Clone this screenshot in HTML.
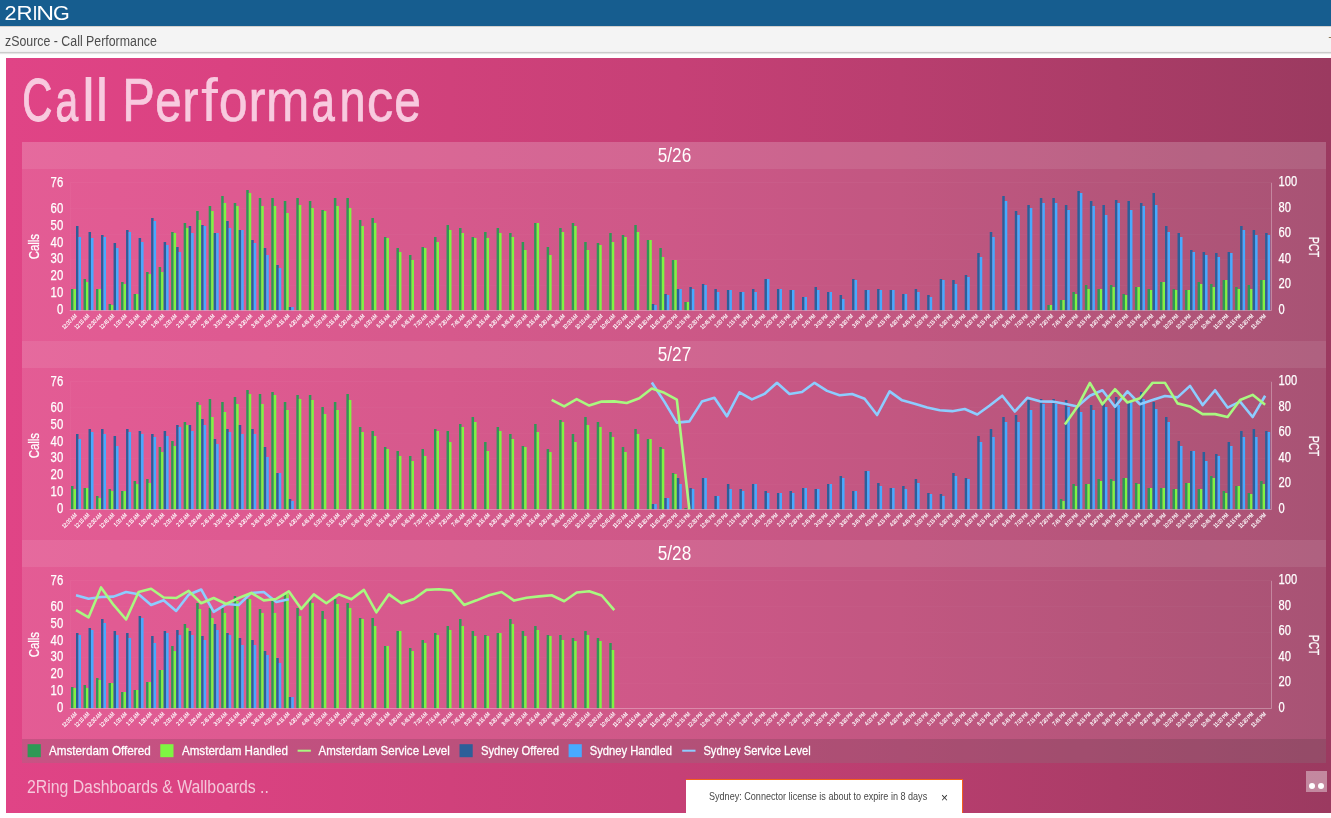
<!DOCTYPE html>
<html lang="en">
<head>
<meta charset="utf-8">
<title>zSource - Call Performance</title>
<style>
*{box-sizing:border-box;margin:0;padding:0}
html,body{width:1331px;height:818px;overflow:hidden;background:#fff;font-family:"Liberation Sans",sans-serif}
.topbar{position:absolute;left:0;top:0;width:1331px;height:26px;background:#165d8f}
.logo{position:absolute;left:0;top:0}
.subbar{position:absolute;left:0;top:26px;width:1331px;height:27px;background:linear-gradient(to bottom,#f4f4f4 0,#f4f4f4 24px,#ececec 25px);border-top:1px solid #d2d0ce;border-bottom:1px solid #cbcbcb;box-shadow:0 1px 1px rgba(0,0,0,.1)}
.subbar .t{position:absolute;left:5.3px;top:6.3px;font-size:14px;line-height:17px;color:#4d4d4d;white-space:nowrap;transform-origin:0 50%;transform:scaleX(.883)}
.subbar .r{position:absolute;left:1328.4px;top:6.3px;font-size:13px;line-height:17px;color:#8f7a58;white-space:nowrap}
.panel{position:absolute;left:6px;top:58px;width:1325px;height:754.5px;overflow:hidden;
 background:linear-gradient(to right,#e04486 0px,#da4281 220px,#d0417b 444px,#c64076 670px,#b93e6f 894px,#aa3c67 1110px,#9b3a60 1325px)}
.h1{position:absolute;left:0;top:0;display:block}
.charts{position:absolute;left:16px;top:84px;width:1304px;height:597px;background:rgba(255,255,255,.13)}
.chartwrap{position:absolute;left:0;width:1304px;height:199px}
.chartwrap .band{position:absolute;left:0;top:0;width:1304px;height:26.5px;background:rgba(255,255,255,.085)}
svg.chart{position:absolute;left:0;top:0;display:block;overflow:visible}
svg text{font-family:"Liberation Sans",sans-serif;fill:#fff}
.ct{font-size:20.2px}
.al{font-size:14px;stroke:#fff;stroke-width:.25px}
.at{font-size:14px;stroke:#fff;stroke-width:.25px}
.xt text{font-size:5.8px;fill:#fff;stroke:#fff;stroke-width:.15px}
.legend{position:absolute;left:16px;top:681px;width:1304px;height:23.5px;background:rgba(128,128,128,.25)}
.legend svg{position:absolute;left:0;top:0;display:block}
.legend text{font-size:13.5px;stroke:#fff;stroke-width:.3px}
.foot{position:absolute;left:20.7px;top:718px;font-size:17.5px;line-height:22px;color:rgba(255,255,255,.7);white-space:nowrap;transform-origin:0 50%;transform:scaleX(.903)}
.note{position:absolute;left:680px;top:721px;width:277px;height:40px;background:#fff;border-top:1px solid #f4601a;border-right:1px solid #f4601a}
.note .m{position:absolute;left:22.5px;top:9px;font-size:11px;line-height:14px;color:#484848;white-space:nowrap;transform-origin:0 50%;transform:scaleX(.824)}
.note .x{position:absolute;left:255px;top:9.6px;font-size:12px;line-height:16px;color:#333}
.dots{position:absolute;left:1300px;top:713px;width:21px;height:21.3px;background:rgba(255,255,255,.4)}
.dots i{position:absolute;top:12px;width:6.4px;height:6.4px;border-radius:50%;background:#fff}
</style>
</head>
<body>
<div class="topbar"><svg class="logo" width="80" height="26" viewBox="0 0 80 26"><text y="19.9" style="fill:#fff"><tspan x="4.61" textLength="12.09" lengthAdjust="spacingAndGlyphs" font-size="20">2</tspan><tspan x="16.48" textLength="16.05" lengthAdjust="spacingAndGlyphs" font-size="20.2">R</tspan><tspan x="32.52" textLength="5.06" lengthAdjust="spacingAndGlyphs" font-size="20.2">I</tspan><tspan x="36.17" textLength="17.84" lengthAdjust="spacingAndGlyphs" font-size="20.2">N</tspan><tspan x="53.01" textLength="16.8" lengthAdjust="spacingAndGlyphs" font-size="19.6">G</tspan></text></svg></div>
<div class="subbar"><span class="t">zSource - Call Performance</span><span class="r">T</span></div>
<div class="panel">
<svg class="h1" width="500" height="84" viewBox="0 0 500 84"><text y="63" style="fill:#f8cadf;stroke:#f8cadf"><tspan x="16.13" textLength="30.1" lengthAdjust="spacingAndGlyphs" font-size="61.8" stroke-width="1.1">C</tspan><tspan x="49.62" textLength="22.63" lengthAdjust="spacingAndGlyphs" font-size="60" stroke-width="1.1">a</tspan><tspan x="75.48" textLength="13.9" lengthAdjust="spacingAndGlyphs" font-size="61.5" stroke-width="0">l</tspan><tspan x="88.98" textLength="13.9" lengthAdjust="spacingAndGlyphs" font-size="61.5" stroke-width="0">l</tspan> <tspan x="116.3" textLength="32.53" lengthAdjust="spacingAndGlyphs" font-size="61.3" stroke-width="0.7">P</tspan><tspan x="149.28" textLength="26.32" lengthAdjust="spacingAndGlyphs" font-size="60" stroke-width="0.79">e</tspan><tspan x="176.51" textLength="15.99" lengthAdjust="spacingAndGlyphs" font-size="60" stroke-width="0.8">r</tspan><tspan x="194.94" textLength="16.87" lengthAdjust="spacingAndGlyphs" font-size="62" stroke-width="0">f</tspan><tspan x="212.66" textLength="28.98" lengthAdjust="spacingAndGlyphs" font-size="60" stroke-width="0.5">o</tspan><tspan x="242.49" textLength="17.07" lengthAdjust="spacingAndGlyphs" font-size="60" stroke-width="0.58">r</tspan><tspan x="259.85" textLength="43.67" lengthAdjust="spacingAndGlyphs" font-size="60" stroke-width="0.47">m</tspan><tspan x="305.7" textLength="22.95" lengthAdjust="spacingAndGlyphs" font-size="60" stroke-width="1.1">a</tspan><tspan x="333.38" textLength="26.17" lengthAdjust="spacingAndGlyphs" font-size="60" stroke-width="0.81">n</tspan><tspan x="360.75" textLength="26.64" lengthAdjust="spacingAndGlyphs" font-size="60" stroke-width="0.43">c</tspan><tspan x="388.25" textLength="26.6" lengthAdjust="spacingAndGlyphs" font-size="60" stroke-width="0.76">e</tspan></text></svg>
<div class="charts">
<div class="chartwrap" style="top:0px"><div class="band"></div>
<svg class="chart" width="1304" height="199" viewBox="0 0 1304 199">
<defs><clipPath id="cp0"><rect x="0" y="40.2" width="1304" height="128.6"/></clipPath></defs>
<path d="M47.75 143.5H1249.4M47.75 117.5H1249.4M47.75 92.5H1249.4M47.75 66.5H1249.4" stroke="#fff" stroke-opacity="0.022" stroke-width="1" fill="none"/>
<path d="M47.75 40.5H1249.4" stroke="#fff" stroke-opacity="0.035" stroke-width="1" fill="none"/>
<path d="M48.5 40.8V168.5" stroke="#fff" stroke-opacity="0.035" stroke-width="1" fill="none"/>
<path d="M1249.5 40.8V168.5" stroke="#fff" stroke-opacity="0.3" stroke-width="1" fill="none"/>
<path d="M49.01 168.2h2.5V147h-2.5zM61.53 168.2h2.5V137h-2.5zM74.04 168.2h2.5V147h-2.5zM86.56 168.2h2.5V162h-2.5zM99.08 168.2h2.5V140h-2.5zM111.59 168.2h2.5V152h-2.5zM124.11 168.2h2.5V130h-2.5zM136.63 168.2h2.5V125h-2.5zM149.15 168.2h2.5V90h-2.5zM161.66 168.2h2.5V81h-2.5zM174.18 168.2h2.5V69h-2.5zM186.7 168.2h2.5V64h-2.5zM199.21 168.2h2.5V54h-2.5zM211.73 168.2h2.5V61h-2.5zM224.25 168.2h2.5V48h-2.5zM236.77 168.2h2.5V56h-2.5zM249.28 168.2h2.5V56h-2.5zM261.8 168.2h2.5V59h-2.5zM274.32 168.2h2.5V56h-2.5zM286.84 168.2h2.5V59h-2.5zM299.35 168.2h2.5V68h-2.5zM311.87 168.2h2.5V56h-2.5zM324.39 168.2h2.5V56h-2.5zM336.9 168.2h2.5V78h-2.5zM349.42 168.2h2.5V76h-2.5zM361.94 168.2h2.5V95h-2.5zM374.46 168.2h2.5V106h-2.5zM386.97 168.2h2.5V113h-2.5zM399.49 168.2h2.5V105h-2.5zM412.01 168.2h2.5V95h-2.5zM424.52 168.2h2.5V83h-2.5zM437.04 168.2h2.5V86h-2.5zM449.56 168.2h2.5V95h-2.5zM462.08 168.2h2.5V90h-2.5zM474.59 168.2h2.5V86h-2.5zM487.11 168.2h2.5V91h-2.5zM499.63 168.2h2.5V100h-2.5zM512.14 168.2h2.5V81h-2.5zM524.66 168.2h2.5V105h-2.5zM537.18 168.2h2.5V86h-2.5zM549.7 168.2h2.5V81h-2.5zM562.21 168.2h2.5V100h-2.5zM574.73 168.2h2.5V101h-2.5zM587.25 168.2h2.5V91h-2.5zM599.76 168.2h2.5V93h-2.5zM612.28 168.2h2.5V83h-2.5zM624.8 168.2h2.5V98h-2.5zM637.32 168.2h2.5V106h-2.5zM649.83 168.2h2.5V118h-2.5zM662.35 168.2h2.5V160h-2.5zM1025.35 168.2h2.5V163h-2.5zM1037.87 168.2h2.5V158h-2.5zM1050.38 168.2h2.5V150h-2.5zM1062.9 168.2h2.5V143h-2.5zM1075.42 168.2h2.5V147h-2.5zM1087.94 168.2h2.5V143h-2.5zM1100.45 168.2h2.5V152h-2.5zM1112.97 168.2h2.5V145h-2.5zM1125.49 168.2h2.5V147h-2.5zM1138 168.2h2.5V140h-2.5zM1150.52 168.2h2.5V147h-2.5zM1163.04 168.2h2.5V148h-2.5zM1175.56 168.2h2.5V140h-2.5zM1188.07 168.2h2.5V142h-2.5zM1200.59 168.2h2.5V138h-2.5zM1213.11 168.2h2.5V145h-2.5zM1225.62 168.2h2.5V143h-2.5zM1238.14 168.2h2.5V138h-2.5z" fill="#2e9955"/>
<path d="M51.51 168.2h2.5V147h-2.5zM64.03 168.2h2.5V140h-2.5zM76.54 168.2h2.5V147h-2.5zM89.06 168.2h2.5V163h-2.5zM101.58 168.2h2.5V142h-2.5zM114.09 168.2h2.5V152h-2.5zM126.61 168.2h2.5V132h-2.5zM139.13 168.2h2.5V130h-2.5zM151.65 168.2h2.5V91h-2.5zM164.16 168.2h2.5V86h-2.5zM176.68 168.2h2.5V78h-2.5zM189.2 168.2h2.5V69h-2.5zM201.71 168.2h2.5V61h-2.5zM214.23 168.2h2.5V64h-2.5zM226.75 168.2h2.5V51h-2.5zM239.27 168.2h2.5V64h-2.5zM251.78 168.2h2.5V64h-2.5zM264.3 168.2h2.5V71h-2.5zM276.82 168.2h2.5V63h-2.5zM289.34 168.2h2.5V66h-2.5zM301.85 168.2h2.5V69h-2.5zM314.37 168.2h2.5V64h-2.5zM326.89 168.2h2.5V66h-2.5zM339.4 168.2h2.5V84h-2.5zM351.92 168.2h2.5V81h-2.5zM364.44 168.2h2.5V96h-2.5zM376.96 168.2h2.5V110h-2.5zM389.47 168.2h2.5V118h-2.5zM401.99 168.2h2.5V106h-2.5zM414.51 168.2h2.5V100h-2.5zM427.02 168.2h2.5V88h-2.5zM439.54 168.2h2.5V91h-2.5zM452.06 168.2h2.5V96h-2.5zM464.58 168.2h2.5V96h-2.5zM477.09 168.2h2.5V91h-2.5zM489.61 168.2h2.5V95h-2.5zM502.13 168.2h2.5V108h-2.5zM514.64 168.2h2.5V81h-2.5zM527.16 168.2h2.5V113h-2.5zM539.68 168.2h2.5V90h-2.5zM552.2 168.2h2.5V84h-2.5zM564.71 168.2h2.5V108h-2.5zM577.23 168.2h2.5V103h-2.5zM589.75 168.2h2.5V100h-2.5zM602.26 168.2h2.5V95h-2.5zM614.78 168.2h2.5V90h-2.5zM627.3 168.2h2.5V98h-2.5zM639.82 168.2h2.5V115h-2.5zM652.33 168.2h2.5V118h-2.5zM664.85 168.2h2.5V160h-2.5zM1027.85 168.2h2.5V163h-2.5zM1040.37 168.2h2.5V158h-2.5zM1052.88 168.2h2.5V152h-2.5zM1065.4 168.2h2.5V147h-2.5zM1077.92 168.2h2.5V147h-2.5zM1090.44 168.2h2.5V145h-2.5zM1102.95 168.2h2.5V153h-2.5zM1115.47 168.2h2.5V145h-2.5zM1127.99 168.2h2.5V148h-2.5zM1140.5 168.2h2.5V140h-2.5zM1153.02 168.2h2.5V148h-2.5zM1165.54 168.2h2.5V148h-2.5zM1178.06 168.2h2.5V142h-2.5zM1190.57 168.2h2.5V145h-2.5zM1203.09 168.2h2.5V138h-2.5zM1215.61 168.2h2.5V147h-2.5zM1228.12 168.2h2.5V147h-2.5zM1240.64 168.2h2.5V138h-2.5z" fill="#7ef542"/>
<path d="M54.01 168.2h2.5V84h-2.5zM66.53 168.2h2.5V90h-2.5zM79.04 168.2h2.5V93h-2.5zM91.56 168.2h2.5V101h-2.5zM104.08 168.2h2.5V88h-2.5zM116.59 168.2h2.5V96h-2.5zM129.11 168.2h2.5V76h-2.5zM141.63 168.2h2.5V100h-2.5zM154.15 168.2h2.5V105h-2.5zM166.66 168.2h2.5V84h-2.5zM179.18 168.2h2.5V83h-2.5zM191.7 168.2h2.5V91h-2.5zM204.21 168.2h2.5V79h-2.5zM216.73 168.2h2.5V88h-2.5zM229.25 168.2h2.5V98h-2.5zM241.77 168.2h2.5V106h-2.5zM254.28 168.2h2.5V123h-2.5zM266.8 168.2h2.5V165h-2.5zM629.8 168.2h2.5V162h-2.5zM642.32 168.2h2.5V152h-2.5zM654.83 168.2h2.5V147h-2.5zM667.35 168.2h2.5V145h-2.5zM679.87 168.2h2.5V142h-2.5zM692.39 168.2h2.5V147h-2.5zM704.9 168.2h2.5V148h-2.5zM717.42 168.2h2.5V150h-2.5zM729.94 168.2h2.5V147h-2.5zM742.45 168.2h2.5V137h-2.5zM754.97 168.2h2.5V147h-2.5zM767.49 168.2h2.5V148h-2.5zM780.01 168.2h2.5V155h-2.5zM792.52 168.2h2.5V145h-2.5zM805.04 168.2h2.5V150h-2.5zM817.56 168.2h2.5V153h-2.5zM830.07 168.2h2.5V137h-2.5zM842.59 168.2h2.5V148h-2.5zM855.11 168.2h2.5V147h-2.5zM867.63 168.2h2.5V148h-2.5zM880.14 168.2h2.5V152h-2.5zM892.66 168.2h2.5V147h-2.5zM905.18 168.2h2.5V153h-2.5zM917.69 168.2h2.5V137h-2.5zM930.21 168.2h2.5V138h-2.5zM942.73 168.2h2.5V133h-2.5zM955.25 168.2h2.5V111h-2.5zM967.76 168.2h2.5V90h-2.5zM980.28 168.2h2.5V54h-2.5zM992.8 168.2h2.5V69h-2.5zM1005.31 168.2h2.5V63h-2.5zM1017.83 168.2h2.5V56h-2.5zM1030.35 168.2h2.5V56h-2.5zM1042.87 168.2h2.5V63h-2.5zM1055.38 168.2h2.5V49h-2.5zM1067.9 168.2h2.5V59h-2.5zM1080.42 168.2h2.5V63h-2.5zM1092.94 168.2h2.5V58h-2.5zM1105.45 168.2h2.5V59h-2.5zM1117.97 168.2h2.5V61h-2.5zM1130.49 168.2h2.5V51h-2.5zM1143 168.2h2.5V84h-2.5zM1155.52 168.2h2.5V91h-2.5zM1168.04 168.2h2.5V108h-2.5zM1180.56 168.2h2.5V110h-2.5zM1193.07 168.2h2.5V111h-2.5zM1205.59 168.2h2.5V110h-2.5zM1218.11 168.2h2.5V84h-2.5zM1230.62 168.2h2.5V88h-2.5zM1243.14 168.2h2.5V91h-2.5z" fill="#2c5f99"/>
<path d="M56.51 168.2h2.5V95h-2.5zM69.03 168.2h2.5V96h-2.5zM81.54 168.2h2.5V95h-2.5zM94.06 168.2h2.5V106h-2.5zM106.58 168.2h2.5V90h-2.5zM119.09 168.2h2.5V100h-2.5zM131.61 168.2h2.5V79h-2.5zM144.13 168.2h2.5V103h-2.5zM156.65 168.2h2.5V110h-2.5zM169.16 168.2h2.5V91h-2.5zM181.68 168.2h2.5V84h-2.5zM194.2 168.2h2.5V91h-2.5zM206.71 168.2h2.5V86h-2.5zM219.23 168.2h2.5V88h-2.5zM231.75 168.2h2.5V101h-2.5zM244.27 168.2h2.5V113h-2.5zM256.78 168.2h2.5V126h-2.5zM269.3 168.2h2.5V165h-2.5zM632.3 168.2h2.5V163h-2.5zM644.82 168.2h2.5V153h-2.5zM657.33 168.2h2.5V147h-2.5zM669.85 168.2h2.5V147h-2.5zM682.37 168.2h2.5V143h-2.5zM694.89 168.2h2.5V150h-2.5zM707.4 168.2h2.5V148h-2.5zM719.92 168.2h2.5V150h-2.5zM732.44 168.2h2.5V150h-2.5zM744.95 168.2h2.5V137h-2.5zM757.47 168.2h2.5V147h-2.5zM769.99 168.2h2.5V148h-2.5zM782.51 168.2h2.5V155h-2.5zM795.02 168.2h2.5V148h-2.5zM807.54 168.2h2.5V150h-2.5zM820.06 168.2h2.5V157h-2.5zM832.57 168.2h2.5V138h-2.5zM845.09 168.2h2.5V148h-2.5zM857.61 168.2h2.5V148h-2.5zM870.13 168.2h2.5V148h-2.5zM882.64 168.2h2.5V152h-2.5zM895.16 168.2h2.5V150h-2.5zM907.68 168.2h2.5V155h-2.5zM920.19 168.2h2.5V138h-2.5zM932.71 168.2h2.5V142h-2.5zM945.23 168.2h2.5V135h-2.5zM957.75 168.2h2.5V115h-2.5zM970.26 168.2h2.5V95h-2.5zM982.78 168.2h2.5V59h-2.5zM995.3 168.2h2.5V73h-2.5zM1007.81 168.2h2.5V66h-2.5zM1020.33 168.2h2.5V61h-2.5zM1032.85 168.2h2.5V61h-2.5zM1045.37 168.2h2.5V68h-2.5zM1057.88 168.2h2.5V51h-2.5zM1070.4 168.2h2.5V64h-2.5zM1082.92 168.2h2.5V73h-2.5zM1095.44 168.2h2.5V61h-2.5zM1107.95 168.2h2.5V68h-2.5zM1120.47 168.2h2.5V64h-2.5zM1132.99 168.2h2.5V63h-2.5zM1145.5 168.2h2.5V90h-2.5zM1158.02 168.2h2.5V95h-2.5zM1170.54 168.2h2.5V110h-2.5zM1183.06 168.2h2.5V113h-2.5zM1195.57 168.2h2.5V115h-2.5zM1208.09 168.2h2.5V111h-2.5zM1220.61 168.2h2.5V88h-2.5zM1233.12 168.2h2.5V93h-2.5zM1245.64 168.2h2.5V93h-2.5z" fill="#47aaff"/>
<path d="M47.75 168.5H1249.4" stroke="#fff" stroke-opacity="0.3" stroke-width="1" fill="none"/>
<text class="ct" x="652.5" y="20.1" text-anchor="middle" textLength="33.4" lengthAdjust="spacingAndGlyphs">5/26</text>
<text class="al" x="41.2" y="171.8" text-anchor="end" textLength="6.3" lengthAdjust="spacingAndGlyphs">0</text>
<text class="al" x="41.2" y="155" text-anchor="end" textLength="12.6" lengthAdjust="spacingAndGlyphs">10</text>
<text class="al" x="41.2" y="138.19" text-anchor="end" textLength="12.6" lengthAdjust="spacingAndGlyphs">20</text>
<text class="al" x="41.2" y="121.39" text-anchor="end" textLength="12.6" lengthAdjust="spacingAndGlyphs">30</text>
<text class="al" x="41.2" y="104.59" text-anchor="end" textLength="12.6" lengthAdjust="spacingAndGlyphs">40</text>
<text class="al" x="41.2" y="87.79" text-anchor="end" textLength="12.6" lengthAdjust="spacingAndGlyphs">50</text>
<text class="al" x="41.2" y="70.98" text-anchor="end" textLength="12.6" lengthAdjust="spacingAndGlyphs">60</text>
<text class="al" x="41.2" y="44.9" text-anchor="end" textLength="12.6" lengthAdjust="spacingAndGlyphs">76</text>
<text class="al" x="1256.6" y="171.8" textLength="6.2" lengthAdjust="spacingAndGlyphs">0</text>
<text class="al" x="1256.6" y="146.26" textLength="12.4" lengthAdjust="spacingAndGlyphs">20</text>
<text class="al" x="1256.6" y="120.72" textLength="12.4" lengthAdjust="spacingAndGlyphs">40</text>
<text class="al" x="1256.6" y="95.18" textLength="12.4" lengthAdjust="spacingAndGlyphs">60</text>
<text class="al" x="1256.6" y="69.64" textLength="12.4" lengthAdjust="spacingAndGlyphs">80</text>
<text class="al" x="1256.6" y="44.1" textLength="18.6" lengthAdjust="spacingAndGlyphs">100</text>
<text class="at" transform="translate(17.3 104.65) rotate(-90)" text-anchor="middle" textLength="25.4" lengthAdjust="spacingAndGlyphs">Calls</text>
<text class="at" transform="translate(1286.8 105.15) rotate(90)" text-anchor="middle" textLength="20.3" lengthAdjust="spacingAndGlyphs">PCT</text>
<g class="xt">
<text transform="translate(55.31 174.5) rotate(-45)" text-anchor="end" textLength="18.56" lengthAdjust="spacingAndGlyphs">12:00 AM</text>
<text transform="translate(67.83 174.5) rotate(-45)" text-anchor="end" textLength="18.56" lengthAdjust="spacingAndGlyphs">12:15 AM</text>
<text transform="translate(80.34 174.5) rotate(-45)" text-anchor="end" textLength="18.56" lengthAdjust="spacingAndGlyphs">12:30 AM</text>
<text transform="translate(92.86 174.5) rotate(-45)" text-anchor="end" textLength="18.56" lengthAdjust="spacingAndGlyphs">12:45 AM</text>
<text transform="translate(105.38 174.5) rotate(-45)" text-anchor="end" textLength="16.24" lengthAdjust="spacingAndGlyphs">1:00 AM</text>
<text transform="translate(117.89 174.5) rotate(-45)" text-anchor="end" textLength="16.24" lengthAdjust="spacingAndGlyphs">1:15 AM</text>
<text transform="translate(130.41 174.5) rotate(-45)" text-anchor="end" textLength="16.24" lengthAdjust="spacingAndGlyphs">1:30 AM</text>
<text transform="translate(142.93 174.5) rotate(-45)" text-anchor="end" textLength="16.24" lengthAdjust="spacingAndGlyphs">1:45 AM</text>
<text transform="translate(155.45 174.5) rotate(-45)" text-anchor="end" textLength="16.24" lengthAdjust="spacingAndGlyphs">2:00 AM</text>
<text transform="translate(167.96 174.5) rotate(-45)" text-anchor="end" textLength="16.24" lengthAdjust="spacingAndGlyphs">2:15 AM</text>
<text transform="translate(180.48 174.5) rotate(-45)" text-anchor="end" textLength="16.24" lengthAdjust="spacingAndGlyphs">2:30 AM</text>
<text transform="translate(193 174.5) rotate(-45)" text-anchor="end" textLength="16.24" lengthAdjust="spacingAndGlyphs">2:45 AM</text>
<text transform="translate(205.51 174.5) rotate(-45)" text-anchor="end" textLength="16.24" lengthAdjust="spacingAndGlyphs">3:00 AM</text>
<text transform="translate(218.03 174.5) rotate(-45)" text-anchor="end" textLength="16.24" lengthAdjust="spacingAndGlyphs">3:15 AM</text>
<text transform="translate(230.55 174.5) rotate(-45)" text-anchor="end" textLength="16.24" lengthAdjust="spacingAndGlyphs">3:30 AM</text>
<text transform="translate(243.07 174.5) rotate(-45)" text-anchor="end" textLength="16.24" lengthAdjust="spacingAndGlyphs">3:45 AM</text>
<text transform="translate(255.58 174.5) rotate(-45)" text-anchor="end" textLength="16.24" lengthAdjust="spacingAndGlyphs">4:00 AM</text>
<text transform="translate(268.1 174.5) rotate(-45)" text-anchor="end" textLength="16.24" lengthAdjust="spacingAndGlyphs">4:15 AM</text>
<text transform="translate(280.62 174.5) rotate(-45)" text-anchor="end" textLength="16.24" lengthAdjust="spacingAndGlyphs">4:30 AM</text>
<text transform="translate(293.14 174.5) rotate(-45)" text-anchor="end" textLength="16.24" lengthAdjust="spacingAndGlyphs">4:45 AM</text>
<text transform="translate(305.65 174.5) rotate(-45)" text-anchor="end" textLength="16.24" lengthAdjust="spacingAndGlyphs">5:00 AM</text>
<text transform="translate(318.17 174.5) rotate(-45)" text-anchor="end" textLength="16.24" lengthAdjust="spacingAndGlyphs">5:15 AM</text>
<text transform="translate(330.69 174.5) rotate(-45)" text-anchor="end" textLength="16.24" lengthAdjust="spacingAndGlyphs">5:30 AM</text>
<text transform="translate(343.2 174.5) rotate(-45)" text-anchor="end" textLength="16.24" lengthAdjust="spacingAndGlyphs">5:45 AM</text>
<text transform="translate(355.72 174.5) rotate(-45)" text-anchor="end" textLength="16.24" lengthAdjust="spacingAndGlyphs">6:00 AM</text>
<text transform="translate(368.24 174.5) rotate(-45)" text-anchor="end" textLength="16.24" lengthAdjust="spacingAndGlyphs">6:15 AM</text>
<text transform="translate(380.76 174.5) rotate(-45)" text-anchor="end" textLength="16.24" lengthAdjust="spacingAndGlyphs">6:30 AM</text>
<text transform="translate(393.27 174.5) rotate(-45)" text-anchor="end" textLength="16.24" lengthAdjust="spacingAndGlyphs">6:45 AM</text>
<text transform="translate(405.79 174.5) rotate(-45)" text-anchor="end" textLength="16.24" lengthAdjust="spacingAndGlyphs">7:00 AM</text>
<text transform="translate(418.31 174.5) rotate(-45)" text-anchor="end" textLength="16.24" lengthAdjust="spacingAndGlyphs">7:15 AM</text>
<text transform="translate(430.82 174.5) rotate(-45)" text-anchor="end" textLength="16.24" lengthAdjust="spacingAndGlyphs">7:30 AM</text>
<text transform="translate(443.34 174.5) rotate(-45)" text-anchor="end" textLength="16.24" lengthAdjust="spacingAndGlyphs">7:45 AM</text>
<text transform="translate(455.86 174.5) rotate(-45)" text-anchor="end" textLength="16.24" lengthAdjust="spacingAndGlyphs">8:00 AM</text>
<text transform="translate(468.38 174.5) rotate(-45)" text-anchor="end" textLength="16.24" lengthAdjust="spacingAndGlyphs">8:15 AM</text>
<text transform="translate(480.89 174.5) rotate(-45)" text-anchor="end" textLength="16.24" lengthAdjust="spacingAndGlyphs">8:30 AM</text>
<text transform="translate(493.41 174.5) rotate(-45)" text-anchor="end" textLength="16.24" lengthAdjust="spacingAndGlyphs">8:45 AM</text>
<text transform="translate(505.93 174.5) rotate(-45)" text-anchor="end" textLength="16.24" lengthAdjust="spacingAndGlyphs">9:00 AM</text>
<text transform="translate(518.44 174.5) rotate(-45)" text-anchor="end" textLength="16.24" lengthAdjust="spacingAndGlyphs">9:15 AM</text>
<text transform="translate(530.96 174.5) rotate(-45)" text-anchor="end" textLength="16.24" lengthAdjust="spacingAndGlyphs">9:30 AM</text>
<text transform="translate(543.48 174.5) rotate(-45)" text-anchor="end" textLength="16.24" lengthAdjust="spacingAndGlyphs">9:45 AM</text>
<text transform="translate(556 174.5) rotate(-45)" text-anchor="end" textLength="18.56" lengthAdjust="spacingAndGlyphs">10:00 AM</text>
<text transform="translate(568.51 174.5) rotate(-45)" text-anchor="end" textLength="18.56" lengthAdjust="spacingAndGlyphs">10:15 AM</text>
<text transform="translate(581.03 174.5) rotate(-45)" text-anchor="end" textLength="18.56" lengthAdjust="spacingAndGlyphs">10:30 AM</text>
<text transform="translate(593.55 174.5) rotate(-45)" text-anchor="end" textLength="18.56" lengthAdjust="spacingAndGlyphs">10:45 AM</text>
<text transform="translate(606.06 174.5) rotate(-45)" text-anchor="end" textLength="18.56" lengthAdjust="spacingAndGlyphs">11:00 AM</text>
<text transform="translate(618.58 174.5) rotate(-45)" text-anchor="end" textLength="18.56" lengthAdjust="spacingAndGlyphs">11:15 AM</text>
<text transform="translate(631.1 174.5) rotate(-45)" text-anchor="end" textLength="18.56" lengthAdjust="spacingAndGlyphs">11:30 AM</text>
<text transform="translate(643.62 174.5) rotate(-45)" text-anchor="end" textLength="18.56" lengthAdjust="spacingAndGlyphs">11:45 AM</text>
<text transform="translate(656.13 174.5) rotate(-45)" text-anchor="end" textLength="18.56" lengthAdjust="spacingAndGlyphs">12:00 PM</text>
<text transform="translate(668.65 174.5) rotate(-45)" text-anchor="end" textLength="18.56" lengthAdjust="spacingAndGlyphs">12:15 PM</text>
<text transform="translate(681.17 174.5) rotate(-45)" text-anchor="end" textLength="18.56" lengthAdjust="spacingAndGlyphs">12:30 PM</text>
<text transform="translate(693.69 174.5) rotate(-45)" text-anchor="end" textLength="18.56" lengthAdjust="spacingAndGlyphs">12:45 PM</text>
<text transform="translate(706.2 174.5) rotate(-45)" text-anchor="end" textLength="16.24" lengthAdjust="spacingAndGlyphs">1:00 PM</text>
<text transform="translate(718.72 174.5) rotate(-45)" text-anchor="end" textLength="16.24" lengthAdjust="spacingAndGlyphs">1:15 PM</text>
<text transform="translate(731.24 174.5) rotate(-45)" text-anchor="end" textLength="16.24" lengthAdjust="spacingAndGlyphs">1:30 PM</text>
<text transform="translate(743.75 174.5) rotate(-45)" text-anchor="end" textLength="16.24" lengthAdjust="spacingAndGlyphs">1:45 PM</text>
<text transform="translate(756.27 174.5) rotate(-45)" text-anchor="end" textLength="16.24" lengthAdjust="spacingAndGlyphs">2:00 PM</text>
<text transform="translate(768.79 174.5) rotate(-45)" text-anchor="end" textLength="16.24" lengthAdjust="spacingAndGlyphs">2:15 PM</text>
<text transform="translate(781.31 174.5) rotate(-45)" text-anchor="end" textLength="16.24" lengthAdjust="spacingAndGlyphs">2:30 PM</text>
<text transform="translate(793.82 174.5) rotate(-45)" text-anchor="end" textLength="16.24" lengthAdjust="spacingAndGlyphs">2:45 PM</text>
<text transform="translate(806.34 174.5) rotate(-45)" text-anchor="end" textLength="16.24" lengthAdjust="spacingAndGlyphs">3:00 PM</text>
<text transform="translate(818.86 174.5) rotate(-45)" text-anchor="end" textLength="16.24" lengthAdjust="spacingAndGlyphs">3:15 PM</text>
<text transform="translate(831.37 174.5) rotate(-45)" text-anchor="end" textLength="16.24" lengthAdjust="spacingAndGlyphs">3:30 PM</text>
<text transform="translate(843.89 174.5) rotate(-45)" text-anchor="end" textLength="16.24" lengthAdjust="spacingAndGlyphs">3:45 PM</text>
<text transform="translate(856.41 174.5) rotate(-45)" text-anchor="end" textLength="16.24" lengthAdjust="spacingAndGlyphs">4:00 PM</text>
<text transform="translate(868.93 174.5) rotate(-45)" text-anchor="end" textLength="16.24" lengthAdjust="spacingAndGlyphs">4:15 PM</text>
<text transform="translate(881.44 174.5) rotate(-45)" text-anchor="end" textLength="16.24" lengthAdjust="spacingAndGlyphs">4:30 PM</text>
<text transform="translate(893.96 174.5) rotate(-45)" text-anchor="end" textLength="16.24" lengthAdjust="spacingAndGlyphs">4:45 PM</text>
<text transform="translate(906.48 174.5) rotate(-45)" text-anchor="end" textLength="16.24" lengthAdjust="spacingAndGlyphs">5:00 PM</text>
<text transform="translate(918.99 174.5) rotate(-45)" text-anchor="end" textLength="16.24" lengthAdjust="spacingAndGlyphs">5:15 PM</text>
<text transform="translate(931.51 174.5) rotate(-45)" text-anchor="end" textLength="16.24" lengthAdjust="spacingAndGlyphs">5:30 PM</text>
<text transform="translate(944.03 174.5) rotate(-45)" text-anchor="end" textLength="16.24" lengthAdjust="spacingAndGlyphs">5:45 PM</text>
<text transform="translate(956.55 174.5) rotate(-45)" text-anchor="end" textLength="16.24" lengthAdjust="spacingAndGlyphs">6:00 PM</text>
<text transform="translate(969.06 174.5) rotate(-45)" text-anchor="end" textLength="16.24" lengthAdjust="spacingAndGlyphs">6:15 PM</text>
<text transform="translate(981.58 174.5) rotate(-45)" text-anchor="end" textLength="16.24" lengthAdjust="spacingAndGlyphs">6:30 PM</text>
<text transform="translate(994.1 174.5) rotate(-45)" text-anchor="end" textLength="16.24" lengthAdjust="spacingAndGlyphs">6:45 PM</text>
<text transform="translate(1006.61 174.5) rotate(-45)" text-anchor="end" textLength="16.24" lengthAdjust="spacingAndGlyphs">7:00 PM</text>
<text transform="translate(1019.13 174.5) rotate(-45)" text-anchor="end" textLength="16.24" lengthAdjust="spacingAndGlyphs">7:15 PM</text>
<text transform="translate(1031.65 174.5) rotate(-45)" text-anchor="end" textLength="16.24" lengthAdjust="spacingAndGlyphs">7:30 PM</text>
<text transform="translate(1044.17 174.5) rotate(-45)" text-anchor="end" textLength="16.24" lengthAdjust="spacingAndGlyphs">7:45 PM</text>
<text transform="translate(1056.68 174.5) rotate(-45)" text-anchor="end" textLength="16.24" lengthAdjust="spacingAndGlyphs">8:00 PM</text>
<text transform="translate(1069.2 174.5) rotate(-45)" text-anchor="end" textLength="16.24" lengthAdjust="spacingAndGlyphs">8:15 PM</text>
<text transform="translate(1081.72 174.5) rotate(-45)" text-anchor="end" textLength="16.24" lengthAdjust="spacingAndGlyphs">8:30 PM</text>
<text transform="translate(1094.24 174.5) rotate(-45)" text-anchor="end" textLength="16.24" lengthAdjust="spacingAndGlyphs">8:45 PM</text>
<text transform="translate(1106.75 174.5) rotate(-45)" text-anchor="end" textLength="16.24" lengthAdjust="spacingAndGlyphs">9:00 PM</text>
<text transform="translate(1119.27 174.5) rotate(-45)" text-anchor="end" textLength="16.24" lengthAdjust="spacingAndGlyphs">9:15 PM</text>
<text transform="translate(1131.79 174.5) rotate(-45)" text-anchor="end" textLength="16.24" lengthAdjust="spacingAndGlyphs">9:30 PM</text>
<text transform="translate(1144.3 174.5) rotate(-45)" text-anchor="end" textLength="16.24" lengthAdjust="spacingAndGlyphs">9:45 PM</text>
<text transform="translate(1156.82 174.5) rotate(-45)" text-anchor="end" textLength="18.56" lengthAdjust="spacingAndGlyphs">10:00 PM</text>
<text transform="translate(1169.34 174.5) rotate(-45)" text-anchor="end" textLength="18.56" lengthAdjust="spacingAndGlyphs">10:15 PM</text>
<text transform="translate(1181.86 174.5) rotate(-45)" text-anchor="end" textLength="18.56" lengthAdjust="spacingAndGlyphs">10:30 PM</text>
<text transform="translate(1194.37 174.5) rotate(-45)" text-anchor="end" textLength="18.56" lengthAdjust="spacingAndGlyphs">10:45 PM</text>
<text transform="translate(1206.89 174.5) rotate(-45)" text-anchor="end" textLength="18.56" lengthAdjust="spacingAndGlyphs">11:00 PM</text>
<text transform="translate(1219.41 174.5) rotate(-45)" text-anchor="end" textLength="18.56" lengthAdjust="spacingAndGlyphs">11:15 PM</text>
<text transform="translate(1231.92 174.5) rotate(-45)" text-anchor="end" textLength="18.56" lengthAdjust="spacingAndGlyphs">11:30 PM</text>
<text transform="translate(1244.44 174.5) rotate(-45)" text-anchor="end" textLength="18.56" lengthAdjust="spacingAndGlyphs">11:45 PM</text>
</g>
</svg>
</div>
<div class="chartwrap" style="top:199px"><div class="band"></div>
<svg class="chart" width="1304" height="199" viewBox="0 0 1304 199">
<defs><clipPath id="cp1"><rect x="0" y="40.2" width="1304" height="128.6"/></clipPath></defs>
<path d="M47.75 143.5H1249.4M47.75 117.5H1249.4M47.75 92.5H1249.4M47.75 66.5H1249.4" stroke="#fff" stroke-opacity="0.022" stroke-width="1" fill="none"/>
<path d="M47.75 40.5H1249.4" stroke="#fff" stroke-opacity="0.035" stroke-width="1" fill="none"/>
<path d="M48.5 40.8V168.5" stroke="#fff" stroke-opacity="0.035" stroke-width="1" fill="none"/>
<path d="M1249.5 40.8V168.5" stroke="#fff" stroke-opacity="0.3" stroke-width="1" fill="none"/>
<path d="M49.01 168.2h2.5V145h-2.5zM61.53 168.2h2.5V147h-2.5zM74.04 168.2h2.5V155h-2.5zM86.56 168.2h2.5V148h-2.5zM99.08 168.2h2.5V150h-2.5zM111.59 168.2h2.5V140h-2.5zM124.11 168.2h2.5V138h-2.5zM136.63 168.2h2.5V106h-2.5zM149.15 168.2h2.5V100h-2.5zM161.66 168.2h2.5V81h-2.5zM174.18 168.2h2.5V61h-2.5zM186.7 168.2h2.5V58h-2.5zM199.21 168.2h2.5V61h-2.5zM211.73 168.2h2.5V56h-2.5zM224.25 168.2h2.5V49h-2.5zM236.77 168.2h2.5V53h-2.5zM249.28 168.2h2.5V51h-2.5zM261.8 168.2h2.5V61h-2.5zM274.32 168.2h2.5V54h-2.5zM286.84 168.2h2.5V54h-2.5zM299.35 168.2h2.5V66h-2.5zM311.87 168.2h2.5V61h-2.5zM324.39 168.2h2.5V53h-2.5zM336.9 168.2h2.5V86h-2.5zM349.42 168.2h2.5V90h-2.5zM361.94 168.2h2.5V106h-2.5zM374.46 168.2h2.5V110h-2.5zM386.97 168.2h2.5V115h-2.5zM399.49 168.2h2.5V108h-2.5zM412.01 168.2h2.5V88h-2.5zM424.52 168.2h2.5V90h-2.5zM437.04 168.2h2.5V83h-2.5zM449.56 168.2h2.5V76h-2.5zM462.08 168.2h2.5V101h-2.5zM474.59 168.2h2.5V86h-2.5zM487.11 168.2h2.5V93h-2.5zM499.63 168.2h2.5V105h-2.5zM512.14 168.2h2.5V83h-2.5zM524.66 168.2h2.5V108h-2.5zM537.18 168.2h2.5V79h-2.5zM549.7 168.2h2.5V93h-2.5zM562.21 168.2h2.5V76h-2.5zM574.73 168.2h2.5V81h-2.5zM587.25 168.2h2.5V91h-2.5zM599.76 168.2h2.5V106h-2.5zM612.28 168.2h2.5V88h-2.5zM624.8 168.2h2.5V98h-2.5zM637.32 168.2h2.5V106h-2.5zM649.83 168.2h2.5V132h-2.5zM662.35 168.2h2.5V167h-2.5zM1037.87 168.2h2.5V158h-2.5zM1050.38 168.2h2.5V143h-2.5zM1062.9 168.2h2.5V143h-2.5zM1075.42 168.2h2.5V138h-2.5zM1087.94 168.2h2.5V138h-2.5zM1100.45 168.2h2.5V137h-2.5zM1112.97 168.2h2.5V142h-2.5zM1125.49 168.2h2.5V147h-2.5zM1138 168.2h2.5V147h-2.5zM1150.52 168.2h2.5V148h-2.5zM1163.04 168.2h2.5V142h-2.5zM1175.56 168.2h2.5V148h-2.5zM1188.07 168.2h2.5V135h-2.5zM1200.59 168.2h2.5V150h-2.5zM1213.11 168.2h2.5V145h-2.5zM1225.62 168.2h2.5V152h-2.5zM1238.14 168.2h2.5V140h-2.5z" fill="#2e9955"/>
<path d="M51.51 168.2h2.5V148h-2.5zM64.03 168.2h2.5V147h-2.5zM76.54 168.2h2.5V157h-2.5zM89.06 168.2h2.5V150h-2.5zM101.58 168.2h2.5V150h-2.5zM114.09 168.2h2.5V143h-2.5zM126.61 168.2h2.5V142h-2.5zM139.13 168.2h2.5V111h-2.5zM151.65 168.2h2.5V105h-2.5zM164.16 168.2h2.5V84h-2.5zM176.68 168.2h2.5V64h-2.5zM189.2 168.2h2.5V76h-2.5zM201.71 168.2h2.5V71h-2.5zM214.23 168.2h2.5V63h-2.5zM226.75 168.2h2.5V53h-2.5zM239.27 168.2h2.5V63h-2.5zM251.78 168.2h2.5V54h-2.5zM264.3 168.2h2.5V69h-2.5zM276.82 168.2h2.5V58h-2.5zM289.34 168.2h2.5V59h-2.5zM301.85 168.2h2.5V73h-2.5zM314.37 168.2h2.5V69h-2.5zM326.89 168.2h2.5V59h-2.5zM339.4 168.2h2.5V91h-2.5zM351.92 168.2h2.5V95h-2.5zM364.44 168.2h2.5V108h-2.5zM376.96 168.2h2.5V115h-2.5zM389.47 168.2h2.5V120h-2.5zM401.99 168.2h2.5V115h-2.5zM414.51 168.2h2.5V90h-2.5zM427.02 168.2h2.5V101h-2.5zM439.54 168.2h2.5V86h-2.5zM452.06 168.2h2.5V81h-2.5zM464.58 168.2h2.5V110h-2.5zM477.09 168.2h2.5V90h-2.5zM489.61 168.2h2.5V98h-2.5zM502.13 168.2h2.5V106h-2.5zM514.64 168.2h2.5V91h-2.5zM527.16 168.2h2.5V111h-2.5zM539.68 168.2h2.5V81h-2.5zM552.2 168.2h2.5V101h-2.5zM564.71 168.2h2.5V84h-2.5zM577.23 168.2h2.5V86h-2.5zM589.75 168.2h2.5V96h-2.5zM602.26 168.2h2.5V111h-2.5zM614.78 168.2h2.5V93h-2.5zM627.3 168.2h2.5V98h-2.5zM639.82 168.2h2.5V108h-2.5zM652.33 168.2h2.5V133h-2.5zM1040.37 168.2h2.5V160h-2.5zM1052.88 168.2h2.5V145h-2.5zM1065.4 168.2h2.5V143h-2.5zM1077.92 168.2h2.5V140h-2.5zM1090.44 168.2h2.5V140h-2.5zM1102.95 168.2h2.5V137h-2.5zM1115.47 168.2h2.5V143h-2.5zM1127.99 168.2h2.5V147h-2.5zM1140.5 168.2h2.5V147h-2.5zM1153.02 168.2h2.5V148h-2.5zM1165.54 168.2h2.5V142h-2.5zM1178.06 168.2h2.5V148h-2.5zM1190.57 168.2h2.5V137h-2.5zM1203.09 168.2h2.5V152h-2.5zM1215.61 168.2h2.5V145h-2.5zM1228.12 168.2h2.5V153h-2.5zM1240.64 168.2h2.5V143h-2.5z" fill="#7ef542"/>
<path d="M54.01 168.2h2.5V93h-2.5zM66.53 168.2h2.5V88h-2.5zM79.04 168.2h2.5V88h-2.5zM91.56 168.2h2.5V95h-2.5zM104.08 168.2h2.5V88h-2.5zM116.59 168.2h2.5V90h-2.5zM129.11 168.2h2.5V93h-2.5zM141.63 168.2h2.5V90h-2.5zM154.15 168.2h2.5V84h-2.5zM166.66 168.2h2.5V84h-2.5zM179.18 168.2h2.5V78h-2.5zM191.7 168.2h2.5V98h-2.5zM204.21 168.2h2.5V88h-2.5zM216.73 168.2h2.5V84h-2.5zM229.25 168.2h2.5V88h-2.5zM241.77 168.2h2.5V106h-2.5zM254.28 168.2h2.5V132h-2.5zM266.8 168.2h2.5V158h-2.5zM629.8 168.2h2.5V163h-2.5zM642.32 168.2h2.5V157h-2.5zM654.83 168.2h2.5V137h-2.5zM667.35 168.2h2.5V147h-2.5zM679.87 168.2h2.5V137h-2.5zM692.39 168.2h2.5V155h-2.5zM704.9 168.2h2.5V143h-2.5zM717.42 168.2h2.5V148h-2.5zM729.94 168.2h2.5V143h-2.5zM742.45 168.2h2.5V150h-2.5zM754.97 168.2h2.5V152h-2.5zM767.49 168.2h2.5V150h-2.5zM780.01 168.2h2.5V147h-2.5zM792.52 168.2h2.5V148h-2.5zM805.04 168.2h2.5V143h-2.5zM817.56 168.2h2.5V135h-2.5zM830.07 168.2h2.5V150h-2.5zM842.59 168.2h2.5V130h-2.5zM855.11 168.2h2.5V142h-2.5zM867.63 168.2h2.5V147h-2.5zM880.14 168.2h2.5V145h-2.5zM892.66 168.2h2.5V138h-2.5zM905.18 168.2h2.5V152h-2.5zM917.69 168.2h2.5V153h-2.5zM930.21 168.2h2.5V132h-2.5zM942.73 168.2h2.5V137h-2.5zM955.25 168.2h2.5V95h-2.5zM967.76 168.2h2.5V88h-2.5zM980.28 168.2h2.5V76h-2.5zM992.8 168.2h2.5V74h-2.5zM1005.31 168.2h2.5V59h-2.5zM1017.83 168.2h2.5V58h-2.5zM1030.35 168.2h2.5V58h-2.5zM1042.87 168.2h2.5V59h-2.5zM1055.38 168.2h2.5V66h-2.5zM1067.9 168.2h2.5V64h-2.5zM1080.42 168.2h2.5V63h-2.5zM1092.94 168.2h2.5V56h-2.5zM1105.45 168.2h2.5V61h-2.5zM1117.97 168.2h2.5V51h-2.5zM1130.49 168.2h2.5V61h-2.5zM1143 168.2h2.5V76h-2.5zM1155.52 168.2h2.5V100h-2.5zM1168.04 168.2h2.5V110h-2.5zM1180.56 168.2h2.5V111h-2.5zM1193.07 168.2h2.5V113h-2.5zM1205.59 168.2h2.5V101h-2.5zM1218.11 168.2h2.5V90h-2.5zM1230.62 168.2h2.5V88h-2.5zM1243.14 168.2h2.5V90h-2.5z" fill="#2c5f99"/>
<path d="M56.51 168.2h2.5V98h-2.5zM69.03 168.2h2.5V91h-2.5zM81.54 168.2h2.5V93h-2.5zM94.06 168.2h2.5V105h-2.5zM106.58 168.2h2.5V91h-2.5zM119.09 168.2h2.5V93h-2.5zM131.61 168.2h2.5V96h-2.5zM144.13 168.2h2.5V95h-2.5zM156.65 168.2h2.5V86h-2.5zM169.16 168.2h2.5V90h-2.5zM181.68 168.2h2.5V84h-2.5zM194.2 168.2h2.5V103h-2.5zM206.71 168.2h2.5V91h-2.5zM219.23 168.2h2.5V93h-2.5zM231.75 168.2h2.5V93h-2.5zM244.27 168.2h2.5V116h-2.5zM256.78 168.2h2.5V132h-2.5zM269.3 168.2h2.5V160h-2.5zM632.3 168.2h2.5V163h-2.5zM644.82 168.2h2.5V157h-2.5zM657.33 168.2h2.5V143h-2.5zM669.85 168.2h2.5V148h-2.5zM682.37 168.2h2.5V137h-2.5zM694.89 168.2h2.5V155h-2.5zM707.4 168.2h2.5V148h-2.5zM719.92 168.2h2.5V150h-2.5zM732.44 168.2h2.5V143h-2.5zM744.95 168.2h2.5V152h-2.5zM757.47 168.2h2.5V152h-2.5zM769.99 168.2h2.5V152h-2.5zM782.51 168.2h2.5V147h-2.5zM795.02 168.2h2.5V148h-2.5zM807.54 168.2h2.5V143h-2.5zM820.06 168.2h2.5V137h-2.5zM832.57 168.2h2.5V150h-2.5zM845.09 168.2h2.5V130h-2.5zM857.61 168.2h2.5V145h-2.5zM870.13 168.2h2.5V147h-2.5zM882.64 168.2h2.5V148h-2.5zM895.16 168.2h2.5V142h-2.5zM907.68 168.2h2.5V153h-2.5zM920.19 168.2h2.5V155h-2.5zM932.71 168.2h2.5V135h-2.5zM945.23 168.2h2.5V138h-2.5zM957.75 168.2h2.5V101h-2.5zM970.26 168.2h2.5V96h-2.5zM982.78 168.2h2.5V81h-2.5zM995.3 168.2h2.5V81h-2.5zM1007.81 168.2h2.5V69h-2.5zM1020.33 168.2h2.5V63h-2.5zM1032.85 168.2h2.5V63h-2.5zM1045.37 168.2h2.5V66h-2.5zM1057.88 168.2h2.5V71h-2.5zM1070.4 168.2h2.5V69h-2.5zM1082.92 168.2h2.5V66h-2.5zM1095.44 168.2h2.5V64h-2.5zM1107.95 168.2h2.5V61h-2.5zM1120.47 168.2h2.5V58h-2.5zM1132.99 168.2h2.5V68h-2.5zM1145.5 168.2h2.5V81h-2.5zM1158.02 168.2h2.5V105h-2.5zM1170.54 168.2h2.5V110h-2.5zM1183.06 168.2h2.5V120h-2.5zM1195.57 168.2h2.5V115h-2.5zM1208.09 168.2h2.5V105h-2.5zM1220.61 168.2h2.5V96h-2.5zM1233.12 168.2h2.5V96h-2.5zM1245.64 168.2h2.5V91h-2.5z" fill="#47aaff"/>
<path d="M47.75 168.5H1249.4" stroke="#fff" stroke-opacity="0.3" stroke-width="1" fill="none"/>
<polyline points="629.8,41.44 642.32,60.59 654.83,81.66 667.35,80.39 679.87,60.59 692.39,56.76 704.9,75.28 717.42,51.27 729.94,58.42 742.45,52.93 754.97,41.82 767.49,52.93 780.01,51.02 792.52,41.82 805.04,49.87 817.56,54.21 830.07,52.93 842.59,57.78 855.11,74 867.63,50.38 880.14,59.32 892.66,62.76 905.18,66.6 917.69,69.28 930.21,70.17 942.73,68 955.25,73.49 967.76,64.55 980.28,54.72 992.8,70.55 1005.31,56.76 1017.83,60.34 1030.35,60.59 1042.87,62.76 1055.38,65.45 1067.9,54.72 1080.42,49.23 1092.94,65.83 1105.45,50.38 1117.97,63.28 1130.49,58.93 1143,54.97 1155.52,56.38 1168.04,44.89 1180.56,64.04 1193.07,49.23 1205.59,66.6 1218.11,60.59 1230.62,76.05 1243.14,54.72" fill="none" stroke="#8dcdff" stroke-width="2.6" stroke-linejoin="round" stroke-linecap="butt" clip-path="url(#cp1)"/>
<polyline points="529.66,58.93 542.18,65.45 554.7,58.04 567.21,64.55 579.73,60.59 592.25,60.34 604.76,62 617.28,57.27 629.8,47.44 642.32,51.78 654.83,58.68 667.35,168.5" fill="none" stroke="#a9f880" stroke-width="2.6" stroke-linejoin="round" stroke-linecap="butt" clip-path="url(#cp1)"/>
<polyline points="1042.87,83.45 1055.38,65.83 1067.9,41.82 1080.42,63.28 1092.94,48.21 1105.45,61.49 1117.97,57.27 1130.49,41.82 1143,41.82 1155.52,62.38 1168.04,65.45 1180.56,73.11 1193.07,73.11 1205.59,76.05 1218.11,58.93 1230.62,53.83 1243.14,63.79" fill="none" stroke="#a9f880" stroke-width="2.6" stroke-linejoin="round" stroke-linecap="butt" clip-path="url(#cp1)"/>
<text class="ct" x="652.5" y="20.1" text-anchor="middle" textLength="33.4" lengthAdjust="spacingAndGlyphs">5/27</text>
<text class="al" x="41.2" y="171.8" text-anchor="end" textLength="6.3" lengthAdjust="spacingAndGlyphs">0</text>
<text class="al" x="41.2" y="155" text-anchor="end" textLength="12.6" lengthAdjust="spacingAndGlyphs">10</text>
<text class="al" x="41.2" y="138.19" text-anchor="end" textLength="12.6" lengthAdjust="spacingAndGlyphs">20</text>
<text class="al" x="41.2" y="121.39" text-anchor="end" textLength="12.6" lengthAdjust="spacingAndGlyphs">30</text>
<text class="al" x="41.2" y="104.59" text-anchor="end" textLength="12.6" lengthAdjust="spacingAndGlyphs">40</text>
<text class="al" x="41.2" y="87.79" text-anchor="end" textLength="12.6" lengthAdjust="spacingAndGlyphs">50</text>
<text class="al" x="41.2" y="70.98" text-anchor="end" textLength="12.6" lengthAdjust="spacingAndGlyphs">60</text>
<text class="al" x="41.2" y="44.9" text-anchor="end" textLength="12.6" lengthAdjust="spacingAndGlyphs">76</text>
<text class="al" x="1256.6" y="171.8" textLength="6.2" lengthAdjust="spacingAndGlyphs">0</text>
<text class="al" x="1256.6" y="146.26" textLength="12.4" lengthAdjust="spacingAndGlyphs">20</text>
<text class="al" x="1256.6" y="120.72" textLength="12.4" lengthAdjust="spacingAndGlyphs">40</text>
<text class="al" x="1256.6" y="95.18" textLength="12.4" lengthAdjust="spacingAndGlyphs">60</text>
<text class="al" x="1256.6" y="69.64" textLength="12.4" lengthAdjust="spacingAndGlyphs">80</text>
<text class="al" x="1256.6" y="44.1" textLength="18.6" lengthAdjust="spacingAndGlyphs">100</text>
<text class="at" transform="translate(17.3 104.65) rotate(-90)" text-anchor="middle" textLength="25.4" lengthAdjust="spacingAndGlyphs">Calls</text>
<text class="at" transform="translate(1286.8 105.15) rotate(90)" text-anchor="middle" textLength="20.3" lengthAdjust="spacingAndGlyphs">PCT</text>
<g class="xt">
<text transform="translate(55.31 174.5) rotate(-45)" text-anchor="end" textLength="18.56" lengthAdjust="spacingAndGlyphs">12:00 AM</text>
<text transform="translate(67.83 174.5) rotate(-45)" text-anchor="end" textLength="18.56" lengthAdjust="spacingAndGlyphs">12:15 AM</text>
<text transform="translate(80.34 174.5) rotate(-45)" text-anchor="end" textLength="18.56" lengthAdjust="spacingAndGlyphs">12:30 AM</text>
<text transform="translate(92.86 174.5) rotate(-45)" text-anchor="end" textLength="18.56" lengthAdjust="spacingAndGlyphs">12:45 AM</text>
<text transform="translate(105.38 174.5) rotate(-45)" text-anchor="end" textLength="16.24" lengthAdjust="spacingAndGlyphs">1:00 AM</text>
<text transform="translate(117.89 174.5) rotate(-45)" text-anchor="end" textLength="16.24" lengthAdjust="spacingAndGlyphs">1:15 AM</text>
<text transform="translate(130.41 174.5) rotate(-45)" text-anchor="end" textLength="16.24" lengthAdjust="spacingAndGlyphs">1:30 AM</text>
<text transform="translate(142.93 174.5) rotate(-45)" text-anchor="end" textLength="16.24" lengthAdjust="spacingAndGlyphs">1:45 AM</text>
<text transform="translate(155.45 174.5) rotate(-45)" text-anchor="end" textLength="16.24" lengthAdjust="spacingAndGlyphs">2:00 AM</text>
<text transform="translate(167.96 174.5) rotate(-45)" text-anchor="end" textLength="16.24" lengthAdjust="spacingAndGlyphs">2:15 AM</text>
<text transform="translate(180.48 174.5) rotate(-45)" text-anchor="end" textLength="16.24" lengthAdjust="spacingAndGlyphs">2:30 AM</text>
<text transform="translate(193 174.5) rotate(-45)" text-anchor="end" textLength="16.24" lengthAdjust="spacingAndGlyphs">2:45 AM</text>
<text transform="translate(205.51 174.5) rotate(-45)" text-anchor="end" textLength="16.24" lengthAdjust="spacingAndGlyphs">3:00 AM</text>
<text transform="translate(218.03 174.5) rotate(-45)" text-anchor="end" textLength="16.24" lengthAdjust="spacingAndGlyphs">3:15 AM</text>
<text transform="translate(230.55 174.5) rotate(-45)" text-anchor="end" textLength="16.24" lengthAdjust="spacingAndGlyphs">3:30 AM</text>
<text transform="translate(243.07 174.5) rotate(-45)" text-anchor="end" textLength="16.24" lengthAdjust="spacingAndGlyphs">3:45 AM</text>
<text transform="translate(255.58 174.5) rotate(-45)" text-anchor="end" textLength="16.24" lengthAdjust="spacingAndGlyphs">4:00 AM</text>
<text transform="translate(268.1 174.5) rotate(-45)" text-anchor="end" textLength="16.24" lengthAdjust="spacingAndGlyphs">4:15 AM</text>
<text transform="translate(280.62 174.5) rotate(-45)" text-anchor="end" textLength="16.24" lengthAdjust="spacingAndGlyphs">4:30 AM</text>
<text transform="translate(293.14 174.5) rotate(-45)" text-anchor="end" textLength="16.24" lengthAdjust="spacingAndGlyphs">4:45 AM</text>
<text transform="translate(305.65 174.5) rotate(-45)" text-anchor="end" textLength="16.24" lengthAdjust="spacingAndGlyphs">5:00 AM</text>
<text transform="translate(318.17 174.5) rotate(-45)" text-anchor="end" textLength="16.24" lengthAdjust="spacingAndGlyphs">5:15 AM</text>
<text transform="translate(330.69 174.5) rotate(-45)" text-anchor="end" textLength="16.24" lengthAdjust="spacingAndGlyphs">5:30 AM</text>
<text transform="translate(343.2 174.5) rotate(-45)" text-anchor="end" textLength="16.24" lengthAdjust="spacingAndGlyphs">5:45 AM</text>
<text transform="translate(355.72 174.5) rotate(-45)" text-anchor="end" textLength="16.24" lengthAdjust="spacingAndGlyphs">6:00 AM</text>
<text transform="translate(368.24 174.5) rotate(-45)" text-anchor="end" textLength="16.24" lengthAdjust="spacingAndGlyphs">6:15 AM</text>
<text transform="translate(380.76 174.5) rotate(-45)" text-anchor="end" textLength="16.24" lengthAdjust="spacingAndGlyphs">6:30 AM</text>
<text transform="translate(393.27 174.5) rotate(-45)" text-anchor="end" textLength="16.24" lengthAdjust="spacingAndGlyphs">6:45 AM</text>
<text transform="translate(405.79 174.5) rotate(-45)" text-anchor="end" textLength="16.24" lengthAdjust="spacingAndGlyphs">7:00 AM</text>
<text transform="translate(418.31 174.5) rotate(-45)" text-anchor="end" textLength="16.24" lengthAdjust="spacingAndGlyphs">7:15 AM</text>
<text transform="translate(430.82 174.5) rotate(-45)" text-anchor="end" textLength="16.24" lengthAdjust="spacingAndGlyphs">7:30 AM</text>
<text transform="translate(443.34 174.5) rotate(-45)" text-anchor="end" textLength="16.24" lengthAdjust="spacingAndGlyphs">7:45 AM</text>
<text transform="translate(455.86 174.5) rotate(-45)" text-anchor="end" textLength="16.24" lengthAdjust="spacingAndGlyphs">8:00 AM</text>
<text transform="translate(468.38 174.5) rotate(-45)" text-anchor="end" textLength="16.24" lengthAdjust="spacingAndGlyphs">8:15 AM</text>
<text transform="translate(480.89 174.5) rotate(-45)" text-anchor="end" textLength="16.24" lengthAdjust="spacingAndGlyphs">8:30 AM</text>
<text transform="translate(493.41 174.5) rotate(-45)" text-anchor="end" textLength="16.24" lengthAdjust="spacingAndGlyphs">8:45 AM</text>
<text transform="translate(505.93 174.5) rotate(-45)" text-anchor="end" textLength="16.24" lengthAdjust="spacingAndGlyphs">9:00 AM</text>
<text transform="translate(518.44 174.5) rotate(-45)" text-anchor="end" textLength="16.24" lengthAdjust="spacingAndGlyphs">9:15 AM</text>
<text transform="translate(530.96 174.5) rotate(-45)" text-anchor="end" textLength="16.24" lengthAdjust="spacingAndGlyphs">9:30 AM</text>
<text transform="translate(543.48 174.5) rotate(-45)" text-anchor="end" textLength="16.24" lengthAdjust="spacingAndGlyphs">9:45 AM</text>
<text transform="translate(556 174.5) rotate(-45)" text-anchor="end" textLength="18.56" lengthAdjust="spacingAndGlyphs">10:00 AM</text>
<text transform="translate(568.51 174.5) rotate(-45)" text-anchor="end" textLength="18.56" lengthAdjust="spacingAndGlyphs">10:15 AM</text>
<text transform="translate(581.03 174.5) rotate(-45)" text-anchor="end" textLength="18.56" lengthAdjust="spacingAndGlyphs">10:30 AM</text>
<text transform="translate(593.55 174.5) rotate(-45)" text-anchor="end" textLength="18.56" lengthAdjust="spacingAndGlyphs">10:45 AM</text>
<text transform="translate(606.06 174.5) rotate(-45)" text-anchor="end" textLength="18.56" lengthAdjust="spacingAndGlyphs">11:00 AM</text>
<text transform="translate(618.58 174.5) rotate(-45)" text-anchor="end" textLength="18.56" lengthAdjust="spacingAndGlyphs">11:15 AM</text>
<text transform="translate(631.1 174.5) rotate(-45)" text-anchor="end" textLength="18.56" lengthAdjust="spacingAndGlyphs">11:30 AM</text>
<text transform="translate(643.62 174.5) rotate(-45)" text-anchor="end" textLength="18.56" lengthAdjust="spacingAndGlyphs">11:45 AM</text>
<text transform="translate(656.13 174.5) rotate(-45)" text-anchor="end" textLength="18.56" lengthAdjust="spacingAndGlyphs">12:00 PM</text>
<text transform="translate(668.65 174.5) rotate(-45)" text-anchor="end" textLength="18.56" lengthAdjust="spacingAndGlyphs">12:15 PM</text>
<text transform="translate(681.17 174.5) rotate(-45)" text-anchor="end" textLength="18.56" lengthAdjust="spacingAndGlyphs">12:30 PM</text>
<text transform="translate(693.69 174.5) rotate(-45)" text-anchor="end" textLength="18.56" lengthAdjust="spacingAndGlyphs">12:45 PM</text>
<text transform="translate(706.2 174.5) rotate(-45)" text-anchor="end" textLength="16.24" lengthAdjust="spacingAndGlyphs">1:00 PM</text>
<text transform="translate(718.72 174.5) rotate(-45)" text-anchor="end" textLength="16.24" lengthAdjust="spacingAndGlyphs">1:15 PM</text>
<text transform="translate(731.24 174.5) rotate(-45)" text-anchor="end" textLength="16.24" lengthAdjust="spacingAndGlyphs">1:30 PM</text>
<text transform="translate(743.75 174.5) rotate(-45)" text-anchor="end" textLength="16.24" lengthAdjust="spacingAndGlyphs">1:45 PM</text>
<text transform="translate(756.27 174.5) rotate(-45)" text-anchor="end" textLength="16.24" lengthAdjust="spacingAndGlyphs">2:00 PM</text>
<text transform="translate(768.79 174.5) rotate(-45)" text-anchor="end" textLength="16.24" lengthAdjust="spacingAndGlyphs">2:15 PM</text>
<text transform="translate(781.31 174.5) rotate(-45)" text-anchor="end" textLength="16.24" lengthAdjust="spacingAndGlyphs">2:30 PM</text>
<text transform="translate(793.82 174.5) rotate(-45)" text-anchor="end" textLength="16.24" lengthAdjust="spacingAndGlyphs">2:45 PM</text>
<text transform="translate(806.34 174.5) rotate(-45)" text-anchor="end" textLength="16.24" lengthAdjust="spacingAndGlyphs">3:00 PM</text>
<text transform="translate(818.86 174.5) rotate(-45)" text-anchor="end" textLength="16.24" lengthAdjust="spacingAndGlyphs">3:15 PM</text>
<text transform="translate(831.37 174.5) rotate(-45)" text-anchor="end" textLength="16.24" lengthAdjust="spacingAndGlyphs">3:30 PM</text>
<text transform="translate(843.89 174.5) rotate(-45)" text-anchor="end" textLength="16.24" lengthAdjust="spacingAndGlyphs">3:45 PM</text>
<text transform="translate(856.41 174.5) rotate(-45)" text-anchor="end" textLength="16.24" lengthAdjust="spacingAndGlyphs">4:00 PM</text>
<text transform="translate(868.93 174.5) rotate(-45)" text-anchor="end" textLength="16.24" lengthAdjust="spacingAndGlyphs">4:15 PM</text>
<text transform="translate(881.44 174.5) rotate(-45)" text-anchor="end" textLength="16.24" lengthAdjust="spacingAndGlyphs">4:30 PM</text>
<text transform="translate(893.96 174.5) rotate(-45)" text-anchor="end" textLength="16.24" lengthAdjust="spacingAndGlyphs">4:45 PM</text>
<text transform="translate(906.48 174.5) rotate(-45)" text-anchor="end" textLength="16.24" lengthAdjust="spacingAndGlyphs">5:00 PM</text>
<text transform="translate(918.99 174.5) rotate(-45)" text-anchor="end" textLength="16.24" lengthAdjust="spacingAndGlyphs">5:15 PM</text>
<text transform="translate(931.51 174.5) rotate(-45)" text-anchor="end" textLength="16.24" lengthAdjust="spacingAndGlyphs">5:30 PM</text>
<text transform="translate(944.03 174.5) rotate(-45)" text-anchor="end" textLength="16.24" lengthAdjust="spacingAndGlyphs">5:45 PM</text>
<text transform="translate(956.55 174.5) rotate(-45)" text-anchor="end" textLength="16.24" lengthAdjust="spacingAndGlyphs">6:00 PM</text>
<text transform="translate(969.06 174.5) rotate(-45)" text-anchor="end" textLength="16.24" lengthAdjust="spacingAndGlyphs">6:15 PM</text>
<text transform="translate(981.58 174.5) rotate(-45)" text-anchor="end" textLength="16.24" lengthAdjust="spacingAndGlyphs">6:30 PM</text>
<text transform="translate(994.1 174.5) rotate(-45)" text-anchor="end" textLength="16.24" lengthAdjust="spacingAndGlyphs">6:45 PM</text>
<text transform="translate(1006.61 174.5) rotate(-45)" text-anchor="end" textLength="16.24" lengthAdjust="spacingAndGlyphs">7:00 PM</text>
<text transform="translate(1019.13 174.5) rotate(-45)" text-anchor="end" textLength="16.24" lengthAdjust="spacingAndGlyphs">7:15 PM</text>
<text transform="translate(1031.65 174.5) rotate(-45)" text-anchor="end" textLength="16.24" lengthAdjust="spacingAndGlyphs">7:30 PM</text>
<text transform="translate(1044.17 174.5) rotate(-45)" text-anchor="end" textLength="16.24" lengthAdjust="spacingAndGlyphs">7:45 PM</text>
<text transform="translate(1056.68 174.5) rotate(-45)" text-anchor="end" textLength="16.24" lengthAdjust="spacingAndGlyphs">8:00 PM</text>
<text transform="translate(1069.2 174.5) rotate(-45)" text-anchor="end" textLength="16.24" lengthAdjust="spacingAndGlyphs">8:15 PM</text>
<text transform="translate(1081.72 174.5) rotate(-45)" text-anchor="end" textLength="16.24" lengthAdjust="spacingAndGlyphs">8:30 PM</text>
<text transform="translate(1094.24 174.5) rotate(-45)" text-anchor="end" textLength="16.24" lengthAdjust="spacingAndGlyphs">8:45 PM</text>
<text transform="translate(1106.75 174.5) rotate(-45)" text-anchor="end" textLength="16.24" lengthAdjust="spacingAndGlyphs">9:00 PM</text>
<text transform="translate(1119.27 174.5) rotate(-45)" text-anchor="end" textLength="16.24" lengthAdjust="spacingAndGlyphs">9:15 PM</text>
<text transform="translate(1131.79 174.5) rotate(-45)" text-anchor="end" textLength="16.24" lengthAdjust="spacingAndGlyphs">9:30 PM</text>
<text transform="translate(1144.3 174.5) rotate(-45)" text-anchor="end" textLength="16.24" lengthAdjust="spacingAndGlyphs">9:45 PM</text>
<text transform="translate(1156.82 174.5) rotate(-45)" text-anchor="end" textLength="18.56" lengthAdjust="spacingAndGlyphs">10:00 PM</text>
<text transform="translate(1169.34 174.5) rotate(-45)" text-anchor="end" textLength="18.56" lengthAdjust="spacingAndGlyphs">10:15 PM</text>
<text transform="translate(1181.86 174.5) rotate(-45)" text-anchor="end" textLength="18.56" lengthAdjust="spacingAndGlyphs">10:30 PM</text>
<text transform="translate(1194.37 174.5) rotate(-45)" text-anchor="end" textLength="18.56" lengthAdjust="spacingAndGlyphs">10:45 PM</text>
<text transform="translate(1206.89 174.5) rotate(-45)" text-anchor="end" textLength="18.56" lengthAdjust="spacingAndGlyphs">11:00 PM</text>
<text transform="translate(1219.41 174.5) rotate(-45)" text-anchor="end" textLength="18.56" lengthAdjust="spacingAndGlyphs">11:15 PM</text>
<text transform="translate(1231.92 174.5) rotate(-45)" text-anchor="end" textLength="18.56" lengthAdjust="spacingAndGlyphs">11:30 PM</text>
<text transform="translate(1244.44 174.5) rotate(-45)" text-anchor="end" textLength="18.56" lengthAdjust="spacingAndGlyphs">11:45 PM</text>
</g>
</svg>
</div>
<div class="chartwrap" style="top:398px"><div class="band"></div>
<svg class="chart" width="1304" height="199" viewBox="0 0 1304 199">
<defs><clipPath id="cp2"><rect x="0" y="40.2" width="1304" height="128.6"/></clipPath></defs>
<path d="M47.75 143.5H1249.4M47.75 117.5H1249.4M47.75 92.5H1249.4M47.75 66.5H1249.4" stroke="#fff" stroke-opacity="0.022" stroke-width="1" fill="none"/>
<path d="M47.75 40.5H1249.4" stroke="#fff" stroke-opacity="0.035" stroke-width="1" fill="none"/>
<path d="M48.5 40.8V168.5" stroke="#fff" stroke-opacity="0.035" stroke-width="1" fill="none"/>
<path d="M1249.5 40.8V168.5" stroke="#fff" stroke-opacity="0.3" stroke-width="1" fill="none"/>
<path d="M49.01 168.2h2.5V147h-2.5zM61.53 168.2h2.5V145h-2.5zM74.04 168.2h2.5V138h-2.5zM86.56 168.2h2.5V143h-2.5zM99.08 168.2h2.5V152h-2.5zM111.59 168.2h2.5V150h-2.5zM124.11 168.2h2.5V142h-2.5zM136.63 168.2h2.5V130h-2.5zM149.15 168.2h2.5V106h-2.5zM161.66 168.2h2.5V84h-2.5zM174.18 168.2h2.5V63h-2.5zM186.7 168.2h2.5V68h-2.5zM199.21 168.2h2.5V68h-2.5zM211.73 168.2h2.5V56h-2.5zM224.25 168.2h2.5V59h-2.5zM236.77 168.2h2.5V69h-2.5zM249.28 168.2h2.5V61h-2.5zM261.8 168.2h2.5V54h-2.5zM274.32 168.2h2.5V68h-2.5zM286.84 168.2h2.5V59h-2.5zM299.35 168.2h2.5V71h-2.5zM311.87 168.2h2.5V59h-2.5zM324.39 168.2h2.5V63h-2.5zM336.9 168.2h2.5V78h-2.5zM349.42 168.2h2.5V78h-2.5zM361.94 168.2h2.5V106h-2.5zM374.46 168.2h2.5V91h-2.5zM386.97 168.2h2.5V108h-2.5zM399.49 168.2h2.5V100h-2.5zM412.01 168.2h2.5V93h-2.5zM424.52 168.2h2.5V86h-2.5zM437.04 168.2h2.5V79h-2.5zM449.56 168.2h2.5V91h-2.5zM462.08 168.2h2.5V95h-2.5zM474.59 168.2h2.5V93h-2.5zM487.11 168.2h2.5V79h-2.5zM499.63 168.2h2.5V91h-2.5zM512.14 168.2h2.5V86h-2.5zM524.66 168.2h2.5V95h-2.5zM537.18 168.2h2.5V95h-2.5zM549.7 168.2h2.5V98h-2.5zM562.21 168.2h2.5V91h-2.5zM574.73 168.2h2.5V98h-2.5zM587.25 168.2h2.5V103h-2.5z" fill="#2e9955"/>
<path d="M51.51 168.2h2.5V148h-2.5zM64.03 168.2h2.5V148h-2.5zM76.54 168.2h2.5V140h-2.5zM89.06 168.2h2.5V143h-2.5zM101.58 168.2h2.5V152h-2.5zM114.09 168.2h2.5V150h-2.5zM126.61 168.2h2.5V142h-2.5zM139.13 168.2h2.5V130h-2.5zM151.65 168.2h2.5V111h-2.5zM164.16 168.2h2.5V88h-2.5zM176.68 168.2h2.5V69h-2.5zM189.2 168.2h2.5V78h-2.5zM201.71 168.2h2.5V73h-2.5zM214.23 168.2h2.5V61h-2.5zM226.75 168.2h2.5V59h-2.5zM239.27 168.2h2.5V73h-2.5zM251.78 168.2h2.5V73h-2.5zM264.3 168.2h2.5V54h-2.5zM276.82 168.2h2.5V76h-2.5zM289.34 168.2h2.5V63h-2.5zM301.85 168.2h2.5V79h-2.5zM314.37 168.2h2.5V64h-2.5zM326.89 168.2h2.5V68h-2.5zM339.4 168.2h2.5V79h-2.5zM351.92 168.2h2.5V86h-2.5zM364.44 168.2h2.5V106h-2.5zM376.96 168.2h2.5V91h-2.5zM389.47 168.2h2.5V111h-2.5zM401.99 168.2h2.5V103h-2.5zM414.51 168.2h2.5V95h-2.5zM427.02 168.2h2.5V90h-2.5zM439.54 168.2h2.5V86h-2.5zM452.06 168.2h2.5V96h-2.5zM464.58 168.2h2.5V96h-2.5zM477.09 168.2h2.5V93h-2.5zM489.61 168.2h2.5V84h-2.5zM502.13 168.2h2.5V96h-2.5zM514.64 168.2h2.5V90h-2.5zM527.16 168.2h2.5V96h-2.5zM539.68 168.2h2.5V100h-2.5zM552.2 168.2h2.5V101h-2.5zM564.71 168.2h2.5V95h-2.5zM577.23 168.2h2.5V101h-2.5zM589.75 168.2h2.5V110h-2.5z" fill="#7ef542"/>
<path d="M54.01 168.2h2.5V93h-2.5zM66.53 168.2h2.5V88h-2.5zM79.04 168.2h2.5V79h-2.5zM91.56 168.2h2.5V91h-2.5zM104.08 168.2h2.5V93h-2.5zM116.59 168.2h2.5V76h-2.5zM129.11 168.2h2.5V96h-2.5zM141.63 168.2h2.5V91h-2.5zM154.15 168.2h2.5V90h-2.5zM166.66 168.2h2.5V91h-2.5zM179.18 168.2h2.5V96h-2.5zM191.7 168.2h2.5V84h-2.5zM204.21 168.2h2.5V93h-2.5zM216.73 168.2h2.5V98h-2.5zM229.25 168.2h2.5V100h-2.5zM241.77 168.2h2.5V111h-2.5zM254.28 168.2h2.5V118h-2.5zM266.8 168.2h2.5V157h-2.5z" fill="#2c5f99"/>
<path d="M56.51 168.2h2.5V95h-2.5zM69.03 168.2h2.5V90h-2.5zM81.54 168.2h2.5V83h-2.5zM94.06 168.2h2.5V95h-2.5zM106.58 168.2h2.5V98h-2.5zM119.09 168.2h2.5V78h-2.5zM131.61 168.2h2.5V103h-2.5zM144.13 168.2h2.5V93h-2.5zM156.65 168.2h2.5V95h-2.5zM169.16 168.2h2.5V95h-2.5zM181.68 168.2h2.5V100h-2.5zM194.2 168.2h2.5V90h-2.5zM206.71 168.2h2.5V95h-2.5zM219.23 168.2h2.5V105h-2.5zM231.75 168.2h2.5V105h-2.5zM244.27 168.2h2.5V115h-2.5zM256.78 168.2h2.5V123h-2.5zM269.3 168.2h2.5V157h-2.5z" fill="#47aaff"/>
<path d="M47.75 168.5H1249.4" stroke="#fff" stroke-opacity="0.3" stroke-width="1" fill="none"/>
<polyline points="54.01,55.23 66.53,58.68 79.04,57.02 91.56,56.63 104.08,52.04 116.59,54.21 129.11,64.94 141.63,60.34 154.15,70.94 166.66,54.72 179.18,49.48 191.7,71.83 204.21,64.04 216.73,64.94 229.25,52.93 241.77,52.04 254.28,62 266.8,59.32" fill="none" stroke="#8dcdff" stroke-width="2.6" stroke-linejoin="round" stroke-linecap="butt" clip-path="url(#cp2)"/>
<polyline points="54.01,70.04 66.53,77.45 79.04,47.44 91.56,64.94 104.08,79.49 116.59,52.04 129.11,48.72 141.63,57.53 154.15,58.04 166.66,50.89 179.18,63.28 191.7,58.04 204.21,64.04 216.73,58.04 229.25,52.93 241.77,60.34 254.28,58.93 266.8,51.27 279.32,68.89 291.84,54.34 304.35,63.28 316.87,54.34 329.39,59.32 341.9,49.87 354.42,72.34 366.94,54.34 379.46,63.28 391.97,58.93 404.49,49.87 417.01,49.23 429.52,50.38 442.04,64.94 454.56,60.34 467.08,55.23 479.59,52.04 492.11,60.59 504.63,57.78 517.14,56.38 529.66,55.23 542.18,61.23 554.7,52.55 567.21,51.27 579.73,55.49 592.25,70.04" fill="none" stroke="#a9f880" stroke-width="2.6" stroke-linejoin="round" stroke-linecap="butt" clip-path="url(#cp2)"/>
<text class="ct" x="652.5" y="20.1" text-anchor="middle" textLength="33.4" lengthAdjust="spacingAndGlyphs">5/28</text>
<text class="al" x="41.2" y="171.8" text-anchor="end" textLength="6.3" lengthAdjust="spacingAndGlyphs">0</text>
<text class="al" x="41.2" y="155" text-anchor="end" textLength="12.6" lengthAdjust="spacingAndGlyphs">10</text>
<text class="al" x="41.2" y="138.19" text-anchor="end" textLength="12.6" lengthAdjust="spacingAndGlyphs">20</text>
<text class="al" x="41.2" y="121.39" text-anchor="end" textLength="12.6" lengthAdjust="spacingAndGlyphs">30</text>
<text class="al" x="41.2" y="104.59" text-anchor="end" textLength="12.6" lengthAdjust="spacingAndGlyphs">40</text>
<text class="al" x="41.2" y="87.79" text-anchor="end" textLength="12.6" lengthAdjust="spacingAndGlyphs">50</text>
<text class="al" x="41.2" y="70.98" text-anchor="end" textLength="12.6" lengthAdjust="spacingAndGlyphs">60</text>
<text class="al" x="41.2" y="44.9" text-anchor="end" textLength="12.6" lengthAdjust="spacingAndGlyphs">76</text>
<text class="al" x="1256.6" y="171.8" textLength="6.2" lengthAdjust="spacingAndGlyphs">0</text>
<text class="al" x="1256.6" y="146.26" textLength="12.4" lengthAdjust="spacingAndGlyphs">20</text>
<text class="al" x="1256.6" y="120.72" textLength="12.4" lengthAdjust="spacingAndGlyphs">40</text>
<text class="al" x="1256.6" y="95.18" textLength="12.4" lengthAdjust="spacingAndGlyphs">60</text>
<text class="al" x="1256.6" y="69.64" textLength="12.4" lengthAdjust="spacingAndGlyphs">80</text>
<text class="al" x="1256.6" y="44.1" textLength="18.6" lengthAdjust="spacingAndGlyphs">100</text>
<text class="at" transform="translate(17.3 104.65) rotate(-90)" text-anchor="middle" textLength="25.4" lengthAdjust="spacingAndGlyphs">Calls</text>
<text class="at" transform="translate(1286.8 105.15) rotate(90)" text-anchor="middle" textLength="20.3" lengthAdjust="spacingAndGlyphs">PCT</text>
<g class="xt">
<text transform="translate(55.31 174.5) rotate(-45)" text-anchor="end" textLength="18.56" lengthAdjust="spacingAndGlyphs">12:00 AM</text>
<text transform="translate(67.83 174.5) rotate(-45)" text-anchor="end" textLength="18.56" lengthAdjust="spacingAndGlyphs">12:15 AM</text>
<text transform="translate(80.34 174.5) rotate(-45)" text-anchor="end" textLength="18.56" lengthAdjust="spacingAndGlyphs">12:30 AM</text>
<text transform="translate(92.86 174.5) rotate(-45)" text-anchor="end" textLength="18.56" lengthAdjust="spacingAndGlyphs">12:45 AM</text>
<text transform="translate(105.38 174.5) rotate(-45)" text-anchor="end" textLength="16.24" lengthAdjust="spacingAndGlyphs">1:00 AM</text>
<text transform="translate(117.89 174.5) rotate(-45)" text-anchor="end" textLength="16.24" lengthAdjust="spacingAndGlyphs">1:15 AM</text>
<text transform="translate(130.41 174.5) rotate(-45)" text-anchor="end" textLength="16.24" lengthAdjust="spacingAndGlyphs">1:30 AM</text>
<text transform="translate(142.93 174.5) rotate(-45)" text-anchor="end" textLength="16.24" lengthAdjust="spacingAndGlyphs">1:45 AM</text>
<text transform="translate(155.45 174.5) rotate(-45)" text-anchor="end" textLength="16.24" lengthAdjust="spacingAndGlyphs">2:00 AM</text>
<text transform="translate(167.96 174.5) rotate(-45)" text-anchor="end" textLength="16.24" lengthAdjust="spacingAndGlyphs">2:15 AM</text>
<text transform="translate(180.48 174.5) rotate(-45)" text-anchor="end" textLength="16.24" lengthAdjust="spacingAndGlyphs">2:30 AM</text>
<text transform="translate(193 174.5) rotate(-45)" text-anchor="end" textLength="16.24" lengthAdjust="spacingAndGlyphs">2:45 AM</text>
<text transform="translate(205.51 174.5) rotate(-45)" text-anchor="end" textLength="16.24" lengthAdjust="spacingAndGlyphs">3:00 AM</text>
<text transform="translate(218.03 174.5) rotate(-45)" text-anchor="end" textLength="16.24" lengthAdjust="spacingAndGlyphs">3:15 AM</text>
<text transform="translate(230.55 174.5) rotate(-45)" text-anchor="end" textLength="16.24" lengthAdjust="spacingAndGlyphs">3:30 AM</text>
<text transform="translate(243.07 174.5) rotate(-45)" text-anchor="end" textLength="16.24" lengthAdjust="spacingAndGlyphs">3:45 AM</text>
<text transform="translate(255.58 174.5) rotate(-45)" text-anchor="end" textLength="16.24" lengthAdjust="spacingAndGlyphs">4:00 AM</text>
<text transform="translate(268.1 174.5) rotate(-45)" text-anchor="end" textLength="16.24" lengthAdjust="spacingAndGlyphs">4:15 AM</text>
<text transform="translate(280.62 174.5) rotate(-45)" text-anchor="end" textLength="16.24" lengthAdjust="spacingAndGlyphs">4:30 AM</text>
<text transform="translate(293.14 174.5) rotate(-45)" text-anchor="end" textLength="16.24" lengthAdjust="spacingAndGlyphs">4:45 AM</text>
<text transform="translate(305.65 174.5) rotate(-45)" text-anchor="end" textLength="16.24" lengthAdjust="spacingAndGlyphs">5:00 AM</text>
<text transform="translate(318.17 174.5) rotate(-45)" text-anchor="end" textLength="16.24" lengthAdjust="spacingAndGlyphs">5:15 AM</text>
<text transform="translate(330.69 174.5) rotate(-45)" text-anchor="end" textLength="16.24" lengthAdjust="spacingAndGlyphs">5:30 AM</text>
<text transform="translate(343.2 174.5) rotate(-45)" text-anchor="end" textLength="16.24" lengthAdjust="spacingAndGlyphs">5:45 AM</text>
<text transform="translate(355.72 174.5) rotate(-45)" text-anchor="end" textLength="16.24" lengthAdjust="spacingAndGlyphs">6:00 AM</text>
<text transform="translate(368.24 174.5) rotate(-45)" text-anchor="end" textLength="16.24" lengthAdjust="spacingAndGlyphs">6:15 AM</text>
<text transform="translate(380.76 174.5) rotate(-45)" text-anchor="end" textLength="16.24" lengthAdjust="spacingAndGlyphs">6:30 AM</text>
<text transform="translate(393.27 174.5) rotate(-45)" text-anchor="end" textLength="16.24" lengthAdjust="spacingAndGlyphs">6:45 AM</text>
<text transform="translate(405.79 174.5) rotate(-45)" text-anchor="end" textLength="16.24" lengthAdjust="spacingAndGlyphs">7:00 AM</text>
<text transform="translate(418.31 174.5) rotate(-45)" text-anchor="end" textLength="16.24" lengthAdjust="spacingAndGlyphs">7:15 AM</text>
<text transform="translate(430.82 174.5) rotate(-45)" text-anchor="end" textLength="16.24" lengthAdjust="spacingAndGlyphs">7:30 AM</text>
<text transform="translate(443.34 174.5) rotate(-45)" text-anchor="end" textLength="16.24" lengthAdjust="spacingAndGlyphs">7:45 AM</text>
<text transform="translate(455.86 174.5) rotate(-45)" text-anchor="end" textLength="16.24" lengthAdjust="spacingAndGlyphs">8:00 AM</text>
<text transform="translate(468.38 174.5) rotate(-45)" text-anchor="end" textLength="16.24" lengthAdjust="spacingAndGlyphs">8:15 AM</text>
<text transform="translate(480.89 174.5) rotate(-45)" text-anchor="end" textLength="16.24" lengthAdjust="spacingAndGlyphs">8:30 AM</text>
<text transform="translate(493.41 174.5) rotate(-45)" text-anchor="end" textLength="16.24" lengthAdjust="spacingAndGlyphs">8:45 AM</text>
<text transform="translate(505.93 174.5) rotate(-45)" text-anchor="end" textLength="16.24" lengthAdjust="spacingAndGlyphs">9:00 AM</text>
<text transform="translate(518.44 174.5) rotate(-45)" text-anchor="end" textLength="16.24" lengthAdjust="spacingAndGlyphs">9:15 AM</text>
<text transform="translate(530.96 174.5) rotate(-45)" text-anchor="end" textLength="16.24" lengthAdjust="spacingAndGlyphs">9:30 AM</text>
<text transform="translate(543.48 174.5) rotate(-45)" text-anchor="end" textLength="16.24" lengthAdjust="spacingAndGlyphs">9:45 AM</text>
<text transform="translate(556 174.5) rotate(-45)" text-anchor="end" textLength="18.56" lengthAdjust="spacingAndGlyphs">10:00 AM</text>
<text transform="translate(568.51 174.5) rotate(-45)" text-anchor="end" textLength="18.56" lengthAdjust="spacingAndGlyphs">10:15 AM</text>
<text transform="translate(581.03 174.5) rotate(-45)" text-anchor="end" textLength="18.56" lengthAdjust="spacingAndGlyphs">10:30 AM</text>
<text transform="translate(593.55 174.5) rotate(-45)" text-anchor="end" textLength="18.56" lengthAdjust="spacingAndGlyphs">10:45 AM</text>
<text transform="translate(606.06 174.5) rotate(-45)" text-anchor="end" textLength="18.56" lengthAdjust="spacingAndGlyphs">11:00 AM</text>
<text transform="translate(618.58 174.5) rotate(-45)" text-anchor="end" textLength="18.56" lengthAdjust="spacingAndGlyphs">11:15 AM</text>
<text transform="translate(631.1 174.5) rotate(-45)" text-anchor="end" textLength="18.56" lengthAdjust="spacingAndGlyphs">11:30 AM</text>
<text transform="translate(643.62 174.5) rotate(-45)" text-anchor="end" textLength="18.56" lengthAdjust="spacingAndGlyphs">11:45 AM</text>
<text transform="translate(656.13 174.5) rotate(-45)" text-anchor="end" textLength="18.56" lengthAdjust="spacingAndGlyphs">12:00 PM</text>
<text transform="translate(668.65 174.5) rotate(-45)" text-anchor="end" textLength="18.56" lengthAdjust="spacingAndGlyphs">12:15 PM</text>
<text transform="translate(681.17 174.5) rotate(-45)" text-anchor="end" textLength="18.56" lengthAdjust="spacingAndGlyphs">12:30 PM</text>
<text transform="translate(693.69 174.5) rotate(-45)" text-anchor="end" textLength="18.56" lengthAdjust="spacingAndGlyphs">12:45 PM</text>
<text transform="translate(706.2 174.5) rotate(-45)" text-anchor="end" textLength="16.24" lengthAdjust="spacingAndGlyphs">1:00 PM</text>
<text transform="translate(718.72 174.5) rotate(-45)" text-anchor="end" textLength="16.24" lengthAdjust="spacingAndGlyphs">1:15 PM</text>
<text transform="translate(731.24 174.5) rotate(-45)" text-anchor="end" textLength="16.24" lengthAdjust="spacingAndGlyphs">1:30 PM</text>
<text transform="translate(743.75 174.5) rotate(-45)" text-anchor="end" textLength="16.24" lengthAdjust="spacingAndGlyphs">1:45 PM</text>
<text transform="translate(756.27 174.5) rotate(-45)" text-anchor="end" textLength="16.24" lengthAdjust="spacingAndGlyphs">2:00 PM</text>
<text transform="translate(768.79 174.5) rotate(-45)" text-anchor="end" textLength="16.24" lengthAdjust="spacingAndGlyphs">2:15 PM</text>
<text transform="translate(781.31 174.5) rotate(-45)" text-anchor="end" textLength="16.24" lengthAdjust="spacingAndGlyphs">2:30 PM</text>
<text transform="translate(793.82 174.5) rotate(-45)" text-anchor="end" textLength="16.24" lengthAdjust="spacingAndGlyphs">2:45 PM</text>
<text transform="translate(806.34 174.5) rotate(-45)" text-anchor="end" textLength="16.24" lengthAdjust="spacingAndGlyphs">3:00 PM</text>
<text transform="translate(818.86 174.5) rotate(-45)" text-anchor="end" textLength="16.24" lengthAdjust="spacingAndGlyphs">3:15 PM</text>
<text transform="translate(831.37 174.5) rotate(-45)" text-anchor="end" textLength="16.24" lengthAdjust="spacingAndGlyphs">3:30 PM</text>
<text transform="translate(843.89 174.5) rotate(-45)" text-anchor="end" textLength="16.24" lengthAdjust="spacingAndGlyphs">3:45 PM</text>
<text transform="translate(856.41 174.5) rotate(-45)" text-anchor="end" textLength="16.24" lengthAdjust="spacingAndGlyphs">4:00 PM</text>
<text transform="translate(868.93 174.5) rotate(-45)" text-anchor="end" textLength="16.24" lengthAdjust="spacingAndGlyphs">4:15 PM</text>
<text transform="translate(881.44 174.5) rotate(-45)" text-anchor="end" textLength="16.24" lengthAdjust="spacingAndGlyphs">4:30 PM</text>
<text transform="translate(893.96 174.5) rotate(-45)" text-anchor="end" textLength="16.24" lengthAdjust="spacingAndGlyphs">4:45 PM</text>
<text transform="translate(906.48 174.5) rotate(-45)" text-anchor="end" textLength="16.24" lengthAdjust="spacingAndGlyphs">5:00 PM</text>
<text transform="translate(918.99 174.5) rotate(-45)" text-anchor="end" textLength="16.24" lengthAdjust="spacingAndGlyphs">5:15 PM</text>
<text transform="translate(931.51 174.5) rotate(-45)" text-anchor="end" textLength="16.24" lengthAdjust="spacingAndGlyphs">5:30 PM</text>
<text transform="translate(944.03 174.5) rotate(-45)" text-anchor="end" textLength="16.24" lengthAdjust="spacingAndGlyphs">5:45 PM</text>
<text transform="translate(956.55 174.5) rotate(-45)" text-anchor="end" textLength="16.24" lengthAdjust="spacingAndGlyphs">6:00 PM</text>
<text transform="translate(969.06 174.5) rotate(-45)" text-anchor="end" textLength="16.24" lengthAdjust="spacingAndGlyphs">6:15 PM</text>
<text transform="translate(981.58 174.5) rotate(-45)" text-anchor="end" textLength="16.24" lengthAdjust="spacingAndGlyphs">6:30 PM</text>
<text transform="translate(994.1 174.5) rotate(-45)" text-anchor="end" textLength="16.24" lengthAdjust="spacingAndGlyphs">6:45 PM</text>
<text transform="translate(1006.61 174.5) rotate(-45)" text-anchor="end" textLength="16.24" lengthAdjust="spacingAndGlyphs">7:00 PM</text>
<text transform="translate(1019.13 174.5) rotate(-45)" text-anchor="end" textLength="16.24" lengthAdjust="spacingAndGlyphs">7:15 PM</text>
<text transform="translate(1031.65 174.5) rotate(-45)" text-anchor="end" textLength="16.24" lengthAdjust="spacingAndGlyphs">7:30 PM</text>
<text transform="translate(1044.17 174.5) rotate(-45)" text-anchor="end" textLength="16.24" lengthAdjust="spacingAndGlyphs">7:45 PM</text>
<text transform="translate(1056.68 174.5) rotate(-45)" text-anchor="end" textLength="16.24" lengthAdjust="spacingAndGlyphs">8:00 PM</text>
<text transform="translate(1069.2 174.5) rotate(-45)" text-anchor="end" textLength="16.24" lengthAdjust="spacingAndGlyphs">8:15 PM</text>
<text transform="translate(1081.72 174.5) rotate(-45)" text-anchor="end" textLength="16.24" lengthAdjust="spacingAndGlyphs">8:30 PM</text>
<text transform="translate(1094.24 174.5) rotate(-45)" text-anchor="end" textLength="16.24" lengthAdjust="spacingAndGlyphs">8:45 PM</text>
<text transform="translate(1106.75 174.5) rotate(-45)" text-anchor="end" textLength="16.24" lengthAdjust="spacingAndGlyphs">9:00 PM</text>
<text transform="translate(1119.27 174.5) rotate(-45)" text-anchor="end" textLength="16.24" lengthAdjust="spacingAndGlyphs">9:15 PM</text>
<text transform="translate(1131.79 174.5) rotate(-45)" text-anchor="end" textLength="16.24" lengthAdjust="spacingAndGlyphs">9:30 PM</text>
<text transform="translate(1144.3 174.5) rotate(-45)" text-anchor="end" textLength="16.24" lengthAdjust="spacingAndGlyphs">9:45 PM</text>
<text transform="translate(1156.82 174.5) rotate(-45)" text-anchor="end" textLength="18.56" lengthAdjust="spacingAndGlyphs">10:00 PM</text>
<text transform="translate(1169.34 174.5) rotate(-45)" text-anchor="end" textLength="18.56" lengthAdjust="spacingAndGlyphs">10:15 PM</text>
<text transform="translate(1181.86 174.5) rotate(-45)" text-anchor="end" textLength="18.56" lengthAdjust="spacingAndGlyphs">10:30 PM</text>
<text transform="translate(1194.37 174.5) rotate(-45)" text-anchor="end" textLength="18.56" lengthAdjust="spacingAndGlyphs">10:45 PM</text>
<text transform="translate(1206.89 174.5) rotate(-45)" text-anchor="end" textLength="18.56" lengthAdjust="spacingAndGlyphs">11:00 PM</text>
<text transform="translate(1219.41 174.5) rotate(-45)" text-anchor="end" textLength="18.56" lengthAdjust="spacingAndGlyphs">11:15 PM</text>
<text transform="translate(1231.92 174.5) rotate(-45)" text-anchor="end" textLength="18.56" lengthAdjust="spacingAndGlyphs">11:30 PM</text>
<text transform="translate(1244.44 174.5) rotate(-45)" text-anchor="end" textLength="18.56" lengthAdjust="spacingAndGlyphs">11:45 PM</text>
</g>
</svg>
</div>
</div>
<div class="legend"><svg width="1304" height="24" viewBox="0 0 1304 24">
<rect x="5.6" y="5.2" width="13.2" height="13" fill="#2e9955"/>
<text x="27" y="16.3" textLength="101.7" lengthAdjust="spacingAndGlyphs">Amsterdam Offered</text>
<rect x="138.3" y="5.2" width="13.2" height="13" fill="#7ef542"/>
<text x="159.9" y="16.3" textLength="106" lengthAdjust="spacingAndGlyphs">Amsterdam Handled</text>
<rect x="275.6" y="10.7" width="13.3" height="2" fill="#a9f880"/>
<text x="296.5" y="16.3" textLength="131.3" lengthAdjust="spacingAndGlyphs">Amsterdam Service Level</text>
<rect x="437.5" y="5.2" width="13.2" height="13" fill="#2c5f99"/>
<text x="459" y="16.3" textLength="77.9" lengthAdjust="spacingAndGlyphs">Sydney Offered</text>
<rect x="546.6" y="5.2" width="13.2" height="13" fill="#47aaff"/>
<text x="567.8" y="16.3" textLength="82.2" lengthAdjust="spacingAndGlyphs">Sydney Handled</text>
<rect x="660.2" y="10.7" width="13.3" height="2" fill="#8dcdff"/>
<text x="681.4" y="16.3" textLength="107.3" lengthAdjust="spacingAndGlyphs">Sydney Service Level</text>
</svg></div>
<div class="foot">2Ring Dashboards &amp; Wallboards ..</div>
<div class="note"><span class="m">Sydney: Connector license is about to expire in 8 days</span><span class="x">×</span></div>
<div class="dots"><i style="left:2.6px"></i><i style="left:12px"></i></div>
</div>
</body>
</html>
